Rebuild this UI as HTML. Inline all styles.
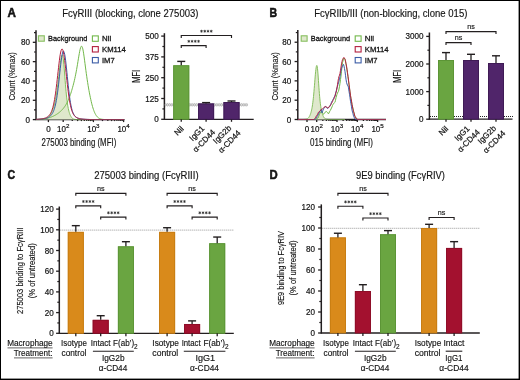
<!DOCTYPE html>
<html><head><meta charset="utf-8"><style>
html,body{margin:0;padding:0;background:#fff;}
svg{display:block;font-family:"Liberation Sans",sans-serif;will-change:transform;}
text{stroke:#141414;stroke-width:0.15px;}
text.t{stroke-width:0.2px;}
</style></head><body>
<svg width="520" height="380" viewBox="0 0 520 380">
<rect width="520" height="380" fill="#fff"/>
<rect x="0" y="0" width="520" height="1" fill="#000" />
<rect x="0" y="0" width="1" height="380" fill="#000" />
<rect x="518.6" y="0" width="1.4" height="380" fill="#000" />
<rect x="0" y="378.6" width="520" height="1.4" fill="#000" />
<text x="7.4" y="16.9" font-size="12.4" font-weight="bold" textLength="8.4" lengthAdjust="spacingAndGlyphs" fill="#141414" style="stroke-width:0.55px">A</text>
<text x="269.6" y="16.9" font-size="12.4" font-weight="bold" textLength="7.6" lengthAdjust="spacingAndGlyphs" fill="#141414" style="stroke-width:0.55px">B</text>
<text x="7.6" y="178.7" font-size="12.4" font-weight="bold" textLength="7.6" lengthAdjust="spacingAndGlyphs" fill="#141414" style="stroke-width:0.55px">C</text>
<text x="269.6" y="178.7" font-size="12.4" font-weight="bold" textLength="8.2" lengthAdjust="spacingAndGlyphs" fill="#141414" style="stroke-width:0.55px">D</text>
<text x="62.2" y="16.8" font-size="10" textLength="136.2" lengthAdjust="spacingAndGlyphs" fill="#141414" >Fc&#947;RIII (blocking, clone 275003)</text>
<text x="314.2" y="17" font-size="10" textLength="153.2" lengthAdjust="spacingAndGlyphs" fill="#141414" >Fc&#947;RIIb/III (non-blocking, clone 015)</text>
<text x="94.2" y="179" font-size="10" textLength="104.4" lengthAdjust="spacingAndGlyphs" fill="#141414" >275003 binding (Fc&#947;RIII)</text>
<text x="356" y="179.2" font-size="10" textLength="88.9" lengthAdjust="spacingAndGlyphs" fill="#141414" >9E9 binding (Fc&#947;RIV)</text>
<line x1="36" y1="30.3" x2="36" y2="120.1" stroke="#231f20" stroke-width="1.5" />
<line x1="32.8" y1="119.6" x2="36" y2="119.6" stroke="#231f20" stroke-width="1.3" />
<text x="30.1" y="122.6" font-size="8.7" text-anchor="end" textLength="4.5" lengthAdjust="spacingAndGlyphs" fill="#141414" class="t">0</text>
<line x1="32.8" y1="100.28" x2="36" y2="100.28" stroke="#231f20" stroke-width="1.3" />
<text x="30.1" y="103.28" font-size="8.7" text-anchor="end" textLength="9" lengthAdjust="spacingAndGlyphs" fill="#141414" class="t">20</text>
<line x1="32.8" y1="80.96" x2="36" y2="80.96" stroke="#231f20" stroke-width="1.3" />
<text x="30.1" y="83.96" font-size="8.7" text-anchor="end" textLength="9" lengthAdjust="spacingAndGlyphs" fill="#141414" class="t">40</text>
<line x1="32.8" y1="61.64" x2="36" y2="61.64" stroke="#231f20" stroke-width="1.3" />
<text x="30.1" y="64.64" font-size="8.7" text-anchor="end" textLength="9" lengthAdjust="spacingAndGlyphs" fill="#141414" class="t">60</text>
<line x1="32.8" y1="42.32" x2="36" y2="42.32" stroke="#231f20" stroke-width="1.3" />
<text x="30.1" y="45.32" font-size="8.7" text-anchor="end" textLength="9" lengthAdjust="spacingAndGlyphs" fill="#141414" class="t">80</text>
<line x1="34" y1="109.94" x2="36" y2="109.94" stroke="#231f20" stroke-width="1.2" />
<line x1="34" y1="90.62" x2="36" y2="90.62" stroke="#231f20" stroke-width="1.2" />
<line x1="34" y1="71.3" x2="36" y2="71.3" stroke="#231f20" stroke-width="1.2" />
<line x1="34" y1="51.98" x2="36" y2="51.98" stroke="#231f20" stroke-width="1.2" />
<line x1="34" y1="32.66" x2="36" y2="32.66" stroke="#231f20" stroke-width="1.2" />
<line x1="35.5" y1="119.6" x2="124.3" y2="119.6" stroke="#231f20" stroke-width="1.3" />
<line x1="48.4" y1="119.6" x2="48.4" y2="122.1" stroke="#231f20" stroke-width="1.3" />
<line x1="63.2" y1="119.6" x2="63.2" y2="122.1" stroke="#231f20" stroke-width="1.3" />
<line x1="93.4" y1="119.6" x2="93.4" y2="122.1" stroke="#231f20" stroke-width="1.3" />
<line x1="123.6" y1="119.6" x2="123.6" y2="122.1" stroke="#231f20" stroke-width="1.3" />
<line x1="72.29" y1="119.6" x2="72.29" y2="121.1" stroke="#231f20" stroke-width="1.3" />
<line x1="77.61" y1="119.6" x2="77.61" y2="121.1" stroke="#231f20" stroke-width="1.3" />
<line x1="81.38" y1="119.6" x2="81.38" y2="121.1" stroke="#231f20" stroke-width="1.3" />
<line x1="84.31" y1="119.6" x2="84.31" y2="121.1" stroke="#231f20" stroke-width="1.3" />
<line x1="86.7" y1="119.6" x2="86.7" y2="121.1" stroke="#231f20" stroke-width="1.3" />
<line x1="88.72" y1="119.6" x2="88.72" y2="121.1" stroke="#231f20" stroke-width="1.3" />
<line x1="90.47" y1="119.6" x2="90.47" y2="121.1" stroke="#231f20" stroke-width="1.3" />
<line x1="92.02" y1="119.6" x2="92.02" y2="121.1" stroke="#231f20" stroke-width="1.3" />
<line x1="102.49" y1="119.6" x2="102.49" y2="121.1" stroke="#231f20" stroke-width="1.3" />
<line x1="107.81" y1="119.6" x2="107.81" y2="121.1" stroke="#231f20" stroke-width="1.3" />
<line x1="111.58" y1="119.6" x2="111.58" y2="121.1" stroke="#231f20" stroke-width="1.3" />
<line x1="114.51" y1="119.6" x2="114.51" y2="121.1" stroke="#231f20" stroke-width="1.3" />
<line x1="116.9" y1="119.6" x2="116.9" y2="121.1" stroke="#231f20" stroke-width="1.3" />
<line x1="118.92" y1="119.6" x2="118.92" y2="121.1" stroke="#231f20" stroke-width="1.3" />
<line x1="120.67" y1="119.6" x2="120.67" y2="121.1" stroke="#231f20" stroke-width="1.3" />
<line x1="122.22" y1="119.6" x2="122.22" y2="121.1" stroke="#231f20" stroke-width="1.3" />
<text x="48.4" y="131.9" font-size="8.7" text-anchor="middle" textLength="4.5" lengthAdjust="spacingAndGlyphs" fill="#141414" class="t">0</text>
<text x="63.2" y="131.9" font-size="8.7" text-anchor="middle" fill="#141414" class="t"><tspan textLength="8.9" lengthAdjust="spacingAndGlyphs">10</tspan><tspan font-size="6.2" dy="-3.6">2</tspan></text>
<text x="93.4" y="131.9" font-size="8.7" text-anchor="middle" fill="#141414" class="t"><tspan textLength="8.9" lengthAdjust="spacingAndGlyphs">10</tspan><tspan font-size="6.2" dy="-3.6">3</tspan></text>
<text x="123.6" y="131.9" font-size="8.7" text-anchor="middle" fill="#141414" class="t"><tspan textLength="8.9" lengthAdjust="spacingAndGlyphs">10</tspan><tspan font-size="6.2" dy="-3.6">4</tspan></text>
<text x="41.5" y="146.1" font-size="10.4" textLength="74.8" lengthAdjust="spacingAndGlyphs" fill="#141414" >275003 binding (MFI)</text>
<text transform="translate(15.2 100.6) rotate(-90)" font-size="9.9" textLength="48.4" lengthAdjust="spacingAndGlyphs" fill="#141414">Count (%max)</text>
<path d="M36,119.6 L36.32,119.6 L36.64,119.59 L36.96,119.59 L37.28,119.59 L37.6,119.59 L37.92,119.59 L38.24,119.58 L38.56,119.58 L38.88,119.57 L39.2,119.57 L39.52,119.56 L39.84,119.55 L40.16,119.55 L40.48,119.53 L40.8,119.52 L41.12,119.51 L41.44,119.49 L41.76,119.47 L42.08,119.44 L42.4,119.42 L42.72,119.38 L43.04,119.34 L43.36,119.3 L43.68,119.25 L44,119.19 L44.32,119.12 L44.64,119.05 L44.96,118.96 L45.28,118.86 L45.6,118.75 L45.92,118.63 L46.24,118.49 L46.56,118.33 L46.88,118.15 L47.2,117.96 L47.52,117.74 L47.84,117.5 L48.16,117.23 L48.48,116.94 L48.8,116.62 L49.12,116.27 L49.44,115.89 L49.76,115.47 L50.08,115.02 L50.4,114.53 L50.72,114.01 L51.04,113.44 L51.36,112.84 L51.68,112.19 L52,111.49 L52.32,110.74 L52.64,109.95 L52.96,109.09 L53.28,108.18 L53.6,107.2 L53.92,106.15 L54.24,105.02 L54.56,103.8 L54.88,102.48 L55.2,101.06 L55.52,99.51 L55.84,97.84 L56.16,96.03 L56.48,94.08 L56.8,91.97 L57.12,89.72 L57.44,87.31 L57.76,84.77 L58.08,82.1 L58.4,79.34 L58.72,76.5 L59.04,73.64 L59.36,70.79 L59.68,68.01 L60,65.36 L60.32,62.89 L60.64,60.66 L60.96,58.73 L61.28,57.15 L61.6,55.96 L61.92,55.2 L62.24,54.89 L62.56,55.17 L62.88,56.33 L63.2,58.31 L63.52,61.01 L63.84,64.29 L64.16,68.01 L64.48,72.02 L64.8,76.16 L65.12,80.29 L65.44,84.31 L65.76,88.14 L66.08,91.7 L66.4,94.96 L66.72,97.92 L67.04,100.58 L67.36,102.95 L67.68,105.05 L68,106.91 L68.32,108.55 L68.64,110.01 L68.96,111.29 L69.28,112.43 L69.6,113.44 L69.92,114.32 L70.24,115.11 L70.56,115.79 L70.88,116.39 L71.2,116.91 L71.52,117.36 L71.84,117.74 L72.16,118.07 L72.48,118.35 L72.8,118.58 L73.12,118.78 L73.44,118.94 L73.76,119.07 L74.08,119.18 L74.4,119.27 L74.72,119.34 L75.04,119.4 L75.36,119.45 L75.68,119.48 L76,119.51 L76.32,119.53 L76.64,119.55 L76.96,119.56 L77.28,119.57 L77.6,119.58 L77.92,119.58 L78.24,119.59 L78.56,119.59 L78.88,119.59 L79.2,119.6 L79.52,119.6 L79.84,119.6 L80.16,119.6 L80.48,119.6 L80.8,119.6 L81.12,119.6 L81.44,119.6 L81.76,119.6 L82.08,119.6 L82.4,119.6 L82.72,119.6 L83.04,119.6 L83.36,119.6 L83.68,119.6 L84,119.6 L84.32,119.6 L84.64,119.6 L84.96,119.6 L85.28,119.6 L85.6,119.6 L85.92,119.6 L86.24,119.6 L86.56,119.6 L86.88,119.6 L87.2,119.6 L87.52,119.6 L87.84,119.6 L88.16,119.6 L88.48,119.6 L88.8,119.6 L89.12,119.6 L89.44,119.6 L89.76,119.6 L90.08,119.6 L90.4,119.6 L90.72,119.6 L91.04,119.6 L91.36,119.6 L91.68,119.6 L92,119.6 L92.32,119.6 L92.64,119.6 L92.96,119.6 L93.28,119.6 L93.6,119.6 L93.92,119.6 L94.24,119.6 L94.56,119.6 L94.88,119.6 L95.2,119.6 L95.52,119.6 L95.84,119.6 L96.16,119.6 L96.48,119.6 L96.8,119.6 L97.12,119.6 L97.44,119.6 L97.76,119.6 L98.08,119.6 L98.4,119.6 L98.72,119.6 L99.04,119.6 L99.36,119.6 L99.68,119.6 L100,119.6 L100,119.6 L36,119.6 Z" stroke="none" fill="#dfe8cc" stroke-width="1" />
<path d="M36,119.6 L36.32,119.6 L36.64,119.59 L36.96,119.59 L37.28,119.59 L37.6,119.59 L37.92,119.59 L38.24,119.58 L38.56,119.58 L38.88,119.57 L39.2,119.57 L39.52,119.56 L39.84,119.55 L40.16,119.55 L40.48,119.53 L40.8,119.52 L41.12,119.51 L41.44,119.49 L41.76,119.47 L42.08,119.44 L42.4,119.42 L42.72,119.38 L43.04,119.34 L43.36,119.3 L43.68,119.25 L44,119.19 L44.32,119.12 L44.64,119.05 L44.96,118.96 L45.28,118.86 L45.6,118.75 L45.92,118.63 L46.24,118.49 L46.56,118.33 L46.88,118.15 L47.2,117.96 L47.52,117.74 L47.84,117.5 L48.16,117.23 L48.48,116.94 L48.8,116.62 L49.12,116.27 L49.44,115.89 L49.76,115.47 L50.08,115.02 L50.4,114.53 L50.72,114.01 L51.04,113.44 L51.36,112.84 L51.68,112.19 L52,111.49 L52.32,110.74 L52.64,109.95 L52.96,109.09 L53.28,108.18 L53.6,107.2 L53.92,106.15 L54.24,105.02 L54.56,103.8 L54.88,102.48 L55.2,101.06 L55.52,99.51 L55.84,97.84 L56.16,96.03 L56.48,94.08 L56.8,91.97 L57.12,89.72 L57.44,87.31 L57.76,84.77 L58.08,82.1 L58.4,79.34 L58.72,76.5 L59.04,73.64 L59.36,70.79 L59.68,68.01 L60,65.36 L60.32,62.89 L60.64,60.66 L60.96,58.73 L61.28,57.15 L61.6,55.96 L61.92,55.2 L62.24,54.89 L62.56,55.17 L62.88,56.33 L63.2,58.31 L63.52,61.01 L63.84,64.29 L64.16,68.01 L64.48,72.02 L64.8,76.16 L65.12,80.29 L65.44,84.31 L65.76,88.14 L66.08,91.7 L66.4,94.96 L66.72,97.92 L67.04,100.58 L67.36,102.95 L67.68,105.05 L68,106.91 L68.32,108.55 L68.64,110.01 L68.96,111.29 L69.28,112.43 L69.6,113.44 L69.92,114.32 L70.24,115.11 L70.56,115.79 L70.88,116.39 L71.2,116.91 L71.52,117.36 L71.84,117.74 L72.16,118.07 L72.48,118.35 L72.8,118.58 L73.12,118.78 L73.44,118.94 L73.76,119.07 L74.08,119.18 L74.4,119.27 L74.72,119.34 L75.04,119.4 L75.36,119.45 L75.68,119.48 L76,119.51 L76.32,119.53 L76.64,119.55 L76.96,119.56 L77.28,119.57 L77.6,119.58 L77.92,119.58 L78.24,119.59 L78.56,119.59 L78.88,119.59 L79.2,119.6 L79.52,119.6 L79.84,119.6 L80.16,119.6 L80.48,119.6 L80.8,119.6 L81.12,119.6 L81.44,119.6 L81.76,119.6 L82.08,119.6 L82.4,119.6 L82.72,119.6 L83.04,119.6 L83.36,119.6 L83.68,119.6 L84,119.6 L84.32,119.6 L84.64,119.6 L84.96,119.6 L85.28,119.6 L85.6,119.6 L85.92,119.6 L86.24,119.6 L86.56,119.6 L86.88,119.6 L87.2,119.6 L87.52,119.6 L87.84,119.6 L88.16,119.6 L88.48,119.6 L88.8,119.6 L89.12,119.6 L89.44,119.6 L89.76,119.6 L90.08,119.6 L90.4,119.6 L90.72,119.6 L91.04,119.6 L91.36,119.6 L91.68,119.6 L92,119.6 L92.32,119.6 L92.64,119.6 L92.96,119.6 L93.28,119.6 L93.6,119.6 L93.92,119.6 L94.24,119.6 L94.56,119.6 L94.88,119.6 L95.2,119.6 L95.52,119.6 L95.84,119.6 L96.16,119.6 L96.48,119.6 L96.8,119.6 L97.12,119.6 L97.44,119.6 L97.76,119.6 L98.08,119.6 L98.4,119.6 L98.72,119.6 L99.04,119.6 L99.36,119.6 L99.68,119.6 L100,119.6" stroke="#86bf5f" fill="none" stroke-width="1.0" />
<path d="M36,119.43 L36.44,119.42 L36.88,119.4 L37.32,119.38 L37.77,119.36 L38.21,119.34 L38.65,119.31 L39.09,119.28 L39.53,119.26 L39.97,119.22 L40.41,119.19 L40.86,119.15 L41.3,119.11 L41.74,119.07 L42.18,119.02 L42.62,118.97 L43.06,118.92 L43.51,118.86 L43.95,118.8 L44.39,118.74 L44.83,118.67 L45.27,118.6 L45.71,118.52 L46.15,118.43 L46.6,118.34 L47.04,118.25 L47.48,118.15 L47.92,118.04 L48.36,117.92 L48.8,117.8 L49.24,117.68 L49.69,117.54 L50.13,117.4 L50.57,117.25 L51.01,117.09 L51.45,116.93 L51.89,116.76 L52.34,116.57 L52.78,116.38 L53.22,116.18 L53.66,115.97 L54.1,115.76 L54.54,115.53 L54.98,115.29 L55.43,115.04 L55.87,114.78 L56.31,114.51 L56.75,114.23 L57.19,113.94 L57.63,113.64 L58.08,113.33 L58.52,113 L58.96,112.66 L59.4,112.3 L59.84,111.94 L60.28,111.55 L60.72,111.16 L61.17,110.74 L61.61,110.3 L62.05,109.85 L62.49,109.38 L62.93,108.88 L63.37,108.35 L63.81,107.8 L64.26,107.22 L64.7,106.61 L65.14,105.96 L65.58,105.28 L66.02,104.56 L66.46,103.79 L66.91,102.97 L67.35,102.11 L67.79,101.19 L68.23,100.23 L68.67,99.2 L69.11,98.11 L69.55,96.97 L70,95.77 L70.44,94.5 L70.88,93.17 L71.32,91.78 L71.76,90.33 L72.2,88.83 L72.64,87.26 L73.09,85.62 L73.53,83.93 L73.97,82.16 L74.41,80.31 L74.85,78.37 L75.29,76.33 L75.73,74.17 L76.18,71.89 L76.62,69.47 L77.06,66.93 L77.5,64.29 L77.94,61.56 L78.38,58.82 L78.83,56.13 L79.27,53.57 L79.71,51.25 L80.15,49.26 L80.59,47.71 L81.03,46.68 L81.47,46.21 L81.92,46.38 L82.36,47.3 L82.8,48.91 L83.24,51.13 L83.68,53.84 L84.12,56.91 L84.56,60.2 L85.01,63.6 L85.45,67.02 L85.89,70.38 L86.33,73.65 L86.77,76.78 L87.21,79.78 L87.66,82.64 L88.1,85.37 L88.54,87.98 L88.98,90.47 L89.42,92.86 L89.86,95.14 L90.3,97.32 L90.75,99.38 L91.19,101.34 L91.63,103.18 L92.07,104.9 L92.51,106.5 L92.95,107.98 L93.4,109.35 L93.84,110.59 L94.28,111.72 L94.72,112.75 L95.16,113.66 L95.6,114.48 L96.04,115.21 L96.49,115.85 L96.93,116.42 L97.37,116.91 L97.81,117.33 L98.25,117.7 L98.69,118.02 L99.13,118.29 L99.58,118.52 L100.02,118.71 L100.46,118.87 L100.9,119.01 L101.34,119.12 L101.78,119.21 L102.22,119.29 L102.67,119.35 L103.11,119.4 L103.55,119.44 L103.99,119.48 L104.43,119.5 L104.87,119.52 L105.32,119.54 L105.76,119.55 L106.2,119.57 L106.64,119.57 L107.08,119.58 L107.52,119.58 L107.96,119.59 L108.41,119.59 L108.85,119.59 L109.29,119.6 L109.73,119.6 L110.17,119.6 L110.61,119.6 L111.06,119.6 L111.5,119.6 L111.94,119.6 L112.38,119.6 L112.82,119.6 L113.26,119.6 L113.7,119.6 L114.15,119.6 L114.59,119.6 L115.03,119.6 L115.47,119.6 L115.91,119.6 L116.35,119.6 L116.79,119.6 L117.24,119.6 L117.68,119.6 L118.12,119.6 L118.56,119.6 L119,119.6 L119.44,119.6 L119.89,119.6 L120.33,119.6 L120.77,119.6 L121.21,119.6 L121.65,119.6 L122.09,119.6 L122.53,119.6 L122.98,119.6 L123.42,119.6 L123.86,119.6 L124.3,119.6" stroke="#72b84a" fill="none" stroke-width="1.0" />
<path d="M36,119.42 L36.44,119.4 L36.88,119.39 L37.32,119.36 L37.77,119.34 L38.21,119.32 L38.65,119.29 L39.09,119.26 L39.53,119.23 L39.97,119.2 L40.41,119.17 L40.86,119.13 L41.3,119.09 L41.74,119.05 L42.18,119 L42.62,118.95 L43.06,118.89 L43.51,118.83 L43.95,118.76 L44.39,118.68 L44.83,118.6 L45.27,118.5 L45.71,118.4 L46.15,118.28 L46.6,118.15 L47.04,118 L47.48,117.82 L47.92,117.63 L48.36,117.41 L48.8,117.16 L49.24,116.88 L49.69,116.56 L50.13,116.19 L50.57,115.78 L51.01,115.31 L51.45,114.78 L51.89,114.17 L52.34,113.48 L52.78,112.7 L53.22,111.81 L53.66,110.78 L54.1,109.61 L54.54,108.27 L54.98,106.74 L55.43,104.98 L55.87,102.98 L56.31,100.7 L56.75,98.14 L57.19,95.27 L57.63,92.1 L58.08,88.64 L58.52,84.92 L58.96,80.98 L59.4,76.89 L59.84,72.74 L60.28,68.63 L60.72,64.68 L61.17,61.02 L61.61,57.77 L62.05,55.05 L62.49,52.98 L62.93,51.63 L63.37,51.07 L63.81,51.34 L64.26,52.44 L64.7,54.34 L65.14,56.95 L65.58,60.17 L66.02,63.89 L66.46,67.96 L66.91,72.27 L67.35,76.66 L67.79,81.03 L68.23,85.28 L68.67,89.32 L69.11,93.09 L69.55,96.54 L70,99.66 L70.44,102.44 L70.88,104.89 L71.32,107.02 L71.76,108.85 L72.2,110.43 L72.64,111.77 L73.09,112.91 L73.53,113.87 L73.97,114.69 L74.41,115.37 L74.85,115.95 L75.29,116.44 L75.73,116.85 L76.18,117.2 L76.62,117.49 L77.06,117.74 L77.5,117.96 L77.94,118.14 L78.38,118.29 L78.83,118.43 L79.27,118.55 L79.71,118.65 L80.15,118.73 L80.59,118.81 L81.03,118.88 L81.47,118.94 L81.92,119 L82.36,119.05 L82.8,119.09 L83.24,119.14 L83.68,119.17 L84.12,119.21 L84.56,119.24 L85.01,119.27 L85.45,119.3 L85.89,119.32 L86.33,119.35 L86.77,119.37 L87.21,119.39 L87.66,119.41 L88.1,119.43 L88.54,119.44 L88.98,119.46 L89.42,119.47 L89.86,119.48 L90.3,119.49 L90.75,119.5 L91.19,119.51 L91.63,119.52 L92.07,119.53 L92.51,119.54 L92.95,119.54 L93.4,119.55 L93.84,119.56 L94.28,119.56 L94.72,119.57 L95.16,119.57 L95.6,119.57 L96.04,119.58 L96.49,119.58 L96.93,119.58 L97.37,119.58 L97.81,119.59 L98.25,119.59 L98.69,119.59 L99.13,119.59 L99.58,119.59 L100.02,119.59 L100.46,119.59 L100.9,119.59 L101.34,119.6 L101.78,119.6 L102.22,119.6 L102.67,119.6 L103.11,119.6 L103.55,119.6 L103.99,119.6 L104.43,119.6 L104.87,119.6 L105.32,119.6 L105.76,119.6 L106.2,119.6 L106.64,119.6 L107.08,119.6 L107.52,119.6 L107.96,119.6 L108.41,119.6 L108.85,119.6 L109.29,119.6 L109.73,119.6 L110.17,119.6 L110.61,119.6 L111.06,119.6 L111.5,119.6 L111.94,119.6 L112.38,119.6 L112.82,119.6 L113.26,119.6 L113.7,119.6 L114.15,119.6 L114.59,119.6 L115.03,119.6 L115.47,119.6 L115.91,119.6 L116.35,119.6 L116.79,119.6 L117.24,119.6 L117.68,119.6 L118.12,119.6 L118.56,119.6 L119,119.6 L119.44,119.6 L119.89,119.6 L120.33,119.6 L120.77,119.6 L121.21,119.6 L121.65,119.6 L122.09,119.6 L122.53,119.6 L122.98,119.6 L123.42,119.6 L123.86,119.6 L124.3,119.6" stroke="#3b5ca6" fill="none" stroke-width="1.0" />
<path d="M36,119.36 L36.44,119.34 L36.88,119.32 L37.32,119.29 L37.77,119.26 L38.21,119.23 L38.65,119.19 L39.09,119.15 L39.53,119.11 L39.97,119.07 L40.41,119.02 L40.86,118.97 L41.3,118.91 L41.74,118.84 L42.18,118.77 L42.62,118.69 L43.06,118.6 L43.51,118.5 L43.95,118.39 L44.39,118.27 L44.83,118.13 L45.27,117.97 L45.71,117.8 L46.15,117.6 L46.6,117.37 L47.04,117.12 L47.48,116.83 L47.92,116.5 L48.36,116.13 L48.8,115.7 L49.24,115.22 L49.69,114.66 L50.13,114.03 L50.57,113.3 L51.01,112.46 L51.45,111.5 L51.89,110.39 L52.34,109.12 L52.78,107.66 L53.22,105.99 L53.66,104.1 L54.1,101.95 L54.54,99.54 L54.98,96.86 L55.43,93.9 L55.87,90.67 L56.31,87.19 L56.75,83.5 L57.19,79.63 L57.63,75.65 L58.08,71.64 L58.52,67.68 L58.96,63.85 L59.4,60.27 L59.84,57.04 L60.28,54.24 L60.72,51.96 L61.17,50.29 L61.61,49.26 L62.05,48.92 L62.49,49.29 L62.93,50.35 L63.37,52.09 L63.81,54.44 L64.26,57.33 L64.7,60.66 L65.14,64.34 L65.58,68.26 L66.02,72.32 L66.46,76.43 L66.91,80.49 L67.35,84.44 L67.79,88.21 L68.23,91.75 L68.67,95.03 L69.11,98.04 L69.55,100.76 L70,103.19 L70.44,105.36 L70.88,107.26 L71.32,108.93 L71.76,110.37 L72.2,111.63 L72.64,112.71 L73.09,113.63 L73.53,114.43 L73.97,115.11 L74.41,115.7 L74.85,116.2 L75.29,116.63 L75.73,117 L76.18,117.31 L76.62,117.59 L77.06,117.82 L77.5,118.02 L77.94,118.2 L78.38,118.35 L78.83,118.48 L79.27,118.59 L79.71,118.69 L80.15,118.78 L80.59,118.86 L81.03,118.93 L81.47,118.99 L81.92,119.04 L82.36,119.09 L82.8,119.14 L83.24,119.18 L83.68,119.22 L84.12,119.25 L84.56,119.28 L85.01,119.31 L85.45,119.33 L85.89,119.36 L86.33,119.38 L86.77,119.4 L87.21,119.42 L87.66,119.44 L88.1,119.45 L88.54,119.46 L88.98,119.48 L89.42,119.49 L89.86,119.5 L90.3,119.51 L90.75,119.52 L91.19,119.53 L91.63,119.54 L92.07,119.54 L92.51,119.55 L92.95,119.55 L93.4,119.56 L93.84,119.56 L94.28,119.57 L94.72,119.57 L95.16,119.58 L95.6,119.58 L96.04,119.58 L96.49,119.58 L96.93,119.59 L97.37,119.59 L97.81,119.59 L98.25,119.59 L98.69,119.59 L99.13,119.59 L99.58,119.59 L100.02,119.59 L100.46,119.6 L100.9,119.6 L101.34,119.6 L101.78,119.6 L102.22,119.6 L102.67,119.6 L103.11,119.6 L103.55,119.6 L103.99,119.6 L104.43,119.6 L104.87,119.6 L105.32,119.6 L105.76,119.6 L106.2,119.6 L106.64,119.6 L107.08,119.6 L107.52,119.6 L107.96,119.6 L108.41,119.6 L108.85,119.6 L109.29,119.6 L109.73,119.6 L110.17,119.6 L110.61,119.6 L111.06,119.6 L111.5,119.6 L111.94,119.6 L112.38,119.6 L112.82,119.6 L113.26,119.6 L113.7,119.6 L114.15,119.6 L114.59,119.6 L115.03,119.6 L115.47,119.6 L115.91,119.6 L116.35,119.6 L116.79,119.6 L117.24,119.6 L117.68,119.6 L118.12,119.6 L118.56,119.6 L119,119.6 L119.44,119.6 L119.89,119.6 L120.33,119.6 L120.77,119.6 L121.21,119.6 L121.65,119.6 L122.09,119.6 L122.53,119.6 L122.98,119.6 L123.42,119.6 L123.86,119.6 L124.3,119.6" stroke="#b3203f" fill="none" stroke-width="1.0" />
<rect x="38.4" y="35.8" width="5.9" height="5.4" fill="#dfe8cc" stroke="#86bf5f" stroke-width="1.1"/>
<text x="48" y="41.2" font-size="8" textLength="39.4" lengthAdjust="spacingAndGlyphs" fill="#141414" style="stroke-width:0.3px">Background</text>
<rect x="92.4" y="35.9" width="5.9" height="5.4" fill="#fff" stroke="#72b84a" stroke-width="1.1"/>
<text x="102" y="41.3" font-size="8" textLength="9.2" lengthAdjust="spacingAndGlyphs" fill="#141414" style="stroke-width:0.3px">Nil</text>
<rect x="92.4" y="46.6" width="5.9" height="5.4" fill="#fff" stroke="#b3203f" stroke-width="1.1"/>
<text x="102" y="52" font-size="8" textLength="23.8" lengthAdjust="spacingAndGlyphs" fill="#141414" style="stroke-width:0.3px">KM114</text>
<rect x="92.4" y="57.5" width="5.9" height="5.4" fill="#fff" stroke="#3b5ca6" stroke-width="1.1"/>
<text x="102" y="62.9" font-size="8" textLength="12.6" lengthAdjust="spacingAndGlyphs" fill="#141414" style="stroke-width:0.3px">IM7</text>
<line x1="164.4" y1="33.2" x2="164.4" y2="119.8" stroke="#231f20" stroke-width="1.5" />
<line x1="161.2" y1="119.3" x2="164.4" y2="119.3" stroke="#231f20" stroke-width="1.3" />
<text x="158.8" y="122.3" font-size="8.7" text-anchor="end" textLength="4.5" lengthAdjust="spacingAndGlyphs" fill="#141414" class="t">0</text>
<line x1="161.2" y1="98.5" x2="164.4" y2="98.5" stroke="#231f20" stroke-width="1.3" />
<text x="158.8" y="101.5" font-size="8.7" text-anchor="end" textLength="13.5" lengthAdjust="spacingAndGlyphs" fill="#141414" class="t">125</text>
<line x1="161.2" y1="77.7" x2="164.4" y2="77.7" stroke="#231f20" stroke-width="1.3" />
<text x="158.8" y="80.7" font-size="8.7" text-anchor="end" textLength="13.5" lengthAdjust="spacingAndGlyphs" fill="#141414" class="t">250</text>
<line x1="161.2" y1="56.9" x2="164.4" y2="56.9" stroke="#231f20" stroke-width="1.3" />
<text x="158.8" y="59.9" font-size="8.7" text-anchor="end" textLength="13.5" lengthAdjust="spacingAndGlyphs" fill="#141414" class="t">375</text>
<line x1="161.2" y1="36.1" x2="164.4" y2="36.1" stroke="#231f20" stroke-width="1.3" />
<text x="158.8" y="39.1" font-size="8.7" text-anchor="end" textLength="13.5" lengthAdjust="spacingAndGlyphs" fill="#141414" class="t">500</text>
<line x1="162.4" y1="108.9" x2="164.4" y2="108.9" stroke="#231f20" stroke-width="1.2" />
<line x1="162.4" y1="88.1" x2="164.4" y2="88.1" stroke="#231f20" stroke-width="1.2" />
<line x1="162.4" y1="67.3" x2="164.4" y2="67.3" stroke="#231f20" stroke-width="1.2" />
<line x1="162.4" y1="46.5" x2="164.4" y2="46.5" stroke="#231f20" stroke-width="1.2" />
<line x1="163.9" y1="119.3" x2="253.7" y2="119.3" stroke="#231f20" stroke-width="1.3" />
<text transform="translate(139.8 82.8) rotate(-90)" font-size="10.2" textLength="12.9" lengthAdjust="spacingAndGlyphs" fill="#141414">MFI</text>
<ellipse cx="165.8" cy="104.8" rx="0.75" ry="1.3" fill="none" stroke="#a4a4a4" stroke-width="0.7"/>
<ellipse cx="167.6" cy="104.8" rx="0.75" ry="1.3" fill="none" stroke="#a4a4a4" stroke-width="0.7"/>
<ellipse cx="169.4" cy="104.8" rx="0.75" ry="1.3" fill="none" stroke="#a4a4a4" stroke-width="0.7"/>
<ellipse cx="171.2" cy="104.8" rx="0.75" ry="1.3" fill="none" stroke="#a4a4a4" stroke-width="0.7"/>
<ellipse cx="173" cy="104.8" rx="0.75" ry="1.3" fill="none" stroke="#a4a4a4" stroke-width="0.7"/>
<ellipse cx="174.8" cy="104.8" rx="0.75" ry="1.3" fill="none" stroke="#a4a4a4" stroke-width="0.7"/>
<ellipse cx="176.6" cy="104.8" rx="0.75" ry="1.3" fill="none" stroke="#a4a4a4" stroke-width="0.7"/>
<ellipse cx="178.4" cy="104.8" rx="0.75" ry="1.3" fill="none" stroke="#a4a4a4" stroke-width="0.7"/>
<ellipse cx="180.2" cy="104.8" rx="0.75" ry="1.3" fill="none" stroke="#a4a4a4" stroke-width="0.7"/>
<ellipse cx="182" cy="104.8" rx="0.75" ry="1.3" fill="none" stroke="#a4a4a4" stroke-width="0.7"/>
<ellipse cx="183.8" cy="104.8" rx="0.75" ry="1.3" fill="none" stroke="#a4a4a4" stroke-width="0.7"/>
<ellipse cx="185.6" cy="104.8" rx="0.75" ry="1.3" fill="none" stroke="#a4a4a4" stroke-width="0.7"/>
<ellipse cx="187.4" cy="104.8" rx="0.75" ry="1.3" fill="none" stroke="#a4a4a4" stroke-width="0.7"/>
<ellipse cx="189.2" cy="104.8" rx="0.75" ry="1.3" fill="none" stroke="#a4a4a4" stroke-width="0.7"/>
<ellipse cx="191" cy="104.8" rx="0.75" ry="1.3" fill="none" stroke="#a4a4a4" stroke-width="0.7"/>
<ellipse cx="192.8" cy="104.8" rx="0.75" ry="1.3" fill="none" stroke="#a4a4a4" stroke-width="0.7"/>
<ellipse cx="194.6" cy="104.8" rx="0.75" ry="1.3" fill="none" stroke="#a4a4a4" stroke-width="0.7"/>
<ellipse cx="196.4" cy="104.8" rx="0.75" ry="1.3" fill="none" stroke="#a4a4a4" stroke-width="0.7"/>
<ellipse cx="198.2" cy="104.8" rx="0.75" ry="1.3" fill="none" stroke="#a4a4a4" stroke-width="0.7"/>
<ellipse cx="200" cy="104.8" rx="0.75" ry="1.3" fill="none" stroke="#a4a4a4" stroke-width="0.7"/>
<ellipse cx="201.8" cy="104.8" rx="0.75" ry="1.3" fill="none" stroke="#a4a4a4" stroke-width="0.7"/>
<ellipse cx="203.6" cy="104.8" rx="0.75" ry="1.3" fill="none" stroke="#a4a4a4" stroke-width="0.7"/>
<ellipse cx="205.4" cy="104.8" rx="0.75" ry="1.3" fill="none" stroke="#a4a4a4" stroke-width="0.7"/>
<ellipse cx="207.2" cy="104.8" rx="0.75" ry="1.3" fill="none" stroke="#a4a4a4" stroke-width="0.7"/>
<ellipse cx="209" cy="104.8" rx="0.75" ry="1.3" fill="none" stroke="#a4a4a4" stroke-width="0.7"/>
<ellipse cx="210.8" cy="104.8" rx="0.75" ry="1.3" fill="none" stroke="#a4a4a4" stroke-width="0.7"/>
<ellipse cx="212.6" cy="104.8" rx="0.75" ry="1.3" fill="none" stroke="#a4a4a4" stroke-width="0.7"/>
<ellipse cx="214.4" cy="104.8" rx="0.75" ry="1.3" fill="none" stroke="#a4a4a4" stroke-width="0.7"/>
<ellipse cx="216.2" cy="104.8" rx="0.75" ry="1.3" fill="none" stroke="#a4a4a4" stroke-width="0.7"/>
<ellipse cx="218" cy="104.8" rx="0.75" ry="1.3" fill="none" stroke="#a4a4a4" stroke-width="0.7"/>
<ellipse cx="219.8" cy="104.8" rx="0.75" ry="1.3" fill="none" stroke="#a4a4a4" stroke-width="0.7"/>
<ellipse cx="221.6" cy="104.8" rx="0.75" ry="1.3" fill="none" stroke="#a4a4a4" stroke-width="0.7"/>
<ellipse cx="223.4" cy="104.8" rx="0.75" ry="1.3" fill="none" stroke="#a4a4a4" stroke-width="0.7"/>
<ellipse cx="225.2" cy="104.8" rx="0.75" ry="1.3" fill="none" stroke="#a4a4a4" stroke-width="0.7"/>
<ellipse cx="227" cy="104.8" rx="0.75" ry="1.3" fill="none" stroke="#a4a4a4" stroke-width="0.7"/>
<ellipse cx="228.8" cy="104.8" rx="0.75" ry="1.3" fill="none" stroke="#a4a4a4" stroke-width="0.7"/>
<ellipse cx="230.6" cy="104.8" rx="0.75" ry="1.3" fill="none" stroke="#a4a4a4" stroke-width="0.7"/>
<ellipse cx="232.4" cy="104.8" rx="0.75" ry="1.3" fill="none" stroke="#a4a4a4" stroke-width="0.7"/>
<ellipse cx="234.2" cy="104.8" rx="0.75" ry="1.3" fill="none" stroke="#a4a4a4" stroke-width="0.7"/>
<ellipse cx="236" cy="104.8" rx="0.75" ry="1.3" fill="none" stroke="#a4a4a4" stroke-width="0.7"/>
<ellipse cx="237.8" cy="104.8" rx="0.75" ry="1.3" fill="none" stroke="#a4a4a4" stroke-width="0.7"/>
<ellipse cx="239.6" cy="104.8" rx="0.75" ry="1.3" fill="none" stroke="#a4a4a4" stroke-width="0.7"/>
<ellipse cx="241.4" cy="104.8" rx="0.75" ry="1.3" fill="none" stroke="#a4a4a4" stroke-width="0.7"/>
<ellipse cx="243.2" cy="104.8" rx="0.75" ry="1.3" fill="none" stroke="#a4a4a4" stroke-width="0.7"/>
<ellipse cx="245" cy="104.8" rx="0.75" ry="1.3" fill="none" stroke="#a4a4a4" stroke-width="0.7"/>
<ellipse cx="246.8" cy="104.8" rx="0.75" ry="1.3" fill="none" stroke="#a4a4a4" stroke-width="0.7"/>
<rect x="173.25" y="65.3" width="16" height="54" fill="#6aa541" />
<rect x="173.7" y="65.75" width="15.1" height="53.55" fill="none" stroke="#5b9436" stroke-width="0.9"/>
<line x1="181.25" y1="61.4" x2="181.25" y2="65.3" stroke="#231f20" stroke-width="1.3" />
<line x1="177.25" y1="61.4" x2="185.25" y2="61.4" stroke="#231f20" stroke-width="1.4" />
<rect x="198.1" y="103.5" width="16" height="15.8" fill="#50256a" />
<rect x="198.55" y="103.95" width="15.1" height="15.35" fill="none" stroke="#3e1b54" stroke-width="0.9"/>
<line x1="206.1" y1="102.6" x2="206.1" y2="103.5" stroke="#231f20" stroke-width="1.3" />
<line x1="202.1" y1="102.6" x2="210.1" y2="102.6" stroke="#231f20" stroke-width="1.4" />
<rect x="223.5" y="102" width="16" height="17.3" fill="#50256a" />
<rect x="223.95" y="102.45" width="15.1" height="16.85" fill="none" stroke="#3e1b54" stroke-width="0.9"/>
<line x1="231.5" y1="101" x2="231.5" y2="102" stroke="#231f20" stroke-width="1.3" />
<line x1="227.5" y1="101" x2="235.5" y2="101" stroke="#231f20" stroke-width="1.4" />
<line x1="181.25" y1="119.3" x2="181.25" y2="121.8" stroke="#231f20" stroke-width="1.3" />
<line x1="206.1" y1="119.3" x2="206.1" y2="121.8" stroke="#231f20" stroke-width="1.3" />
<line x1="231.5" y1="119.3" x2="231.5" y2="121.8" stroke="#231f20" stroke-width="1.3" />
<path d="M181.25,38 L181.25,35.5 L231.5,35.5 L231.5,38" stroke="#231f20" fill="none" stroke-width="1.15" />
<path d="M201.5,29.8 L201.5,32.6 M200.29,30.5 L202.71,31.9 M202.71,30.5 L200.29,31.9 " stroke="#2a2a2a" fill="none" stroke-width="0.75" />
<path d="M204.75,29.8 L204.75,32.6 M203.54,30.5 L205.96,31.9 M205.96,30.5 L203.54,31.9 " stroke="#2a2a2a" fill="none" stroke-width="0.75" />
<path d="M208,29.8 L208,32.6 M206.79,30.5 L209.21,31.9 M209.21,30.5 L206.79,31.9 " stroke="#2a2a2a" fill="none" stroke-width="0.75" />
<path d="M211.25,29.8 L211.25,32.6 M210.04,30.5 L212.46,31.9 M212.46,30.5 L210.04,31.9 " stroke="#2a2a2a" fill="none" stroke-width="0.75" />
<path d="M181.25,48.1 L181.25,45.6 L206.1,45.6 L206.1,48.1" stroke="#231f20" fill="none" stroke-width="1.15" />
<path d="M188.8,39.9 L188.8,42.7 M187.59,40.6 L190.01,42 M190.01,40.6 L187.59,42 " stroke="#2a2a2a" fill="none" stroke-width="0.75" />
<path d="M192.05,39.9 L192.05,42.7 M190.84,40.6 L193.26,42 M193.26,40.6 L190.84,42 " stroke="#2a2a2a" fill="none" stroke-width="0.75" />
<path d="M195.3,39.9 L195.3,42.7 M194.09,40.6 L196.51,42 M196.51,40.6 L194.09,42 " stroke="#2a2a2a" fill="none" stroke-width="0.75" />
<path d="M198.55,39.9 L198.55,42.7 M197.34,40.6 L199.76,42 M199.76,40.6 L197.34,42 " stroke="#2a2a2a" fill="none" stroke-width="0.75" />
<text transform="translate(184.2 129.4) rotate(-45)" font-size="8.1" text-anchor="end" fill="#141414" style="stroke-width:0.22px">Nil</text>
<text transform="translate(205 129) rotate(-45)" font-size="8.1" text-anchor="end" fill="#141414" style="stroke-width:0.22px">IgG1</text>
<text transform="translate(215.8 132.8) rotate(-45)" font-size="8.1" text-anchor="end" fill="#141414" style="stroke-width:0.22px">&#945;-CD44</text>
<text transform="translate(231.9 128.6) rotate(-45)" font-size="8.1" text-anchor="end" fill="#141414" style="stroke-width:0.22px">IgG2b</text>
<text transform="translate(241.3 133.6) rotate(-45)" font-size="8.1" text-anchor="end" fill="#141414" style="stroke-width:0.22px">&#945;-CD44</text>
<line x1="297.8" y1="30" x2="297.8" y2="120" stroke="#231f20" stroke-width="1.5" />
<line x1="294.6" y1="119.5" x2="297.8" y2="119.5" stroke="#231f20" stroke-width="1.3" />
<text x="291.2" y="122.5" font-size="8.7" text-anchor="end" textLength="4.5" lengthAdjust="spacingAndGlyphs" fill="#141414" class="t">0</text>
<line x1="294.6" y1="100.18" x2="297.8" y2="100.18" stroke="#231f20" stroke-width="1.3" />
<text x="291.2" y="103.18" font-size="8.7" text-anchor="end" textLength="9" lengthAdjust="spacingAndGlyphs" fill="#141414" class="t">20</text>
<line x1="294.6" y1="80.86" x2="297.8" y2="80.86" stroke="#231f20" stroke-width="1.3" />
<text x="291.2" y="83.86" font-size="8.7" text-anchor="end" textLength="9" lengthAdjust="spacingAndGlyphs" fill="#141414" class="t">40</text>
<line x1="294.6" y1="61.54" x2="297.8" y2="61.54" stroke="#231f20" stroke-width="1.3" />
<text x="291.2" y="64.54" font-size="8.7" text-anchor="end" textLength="9" lengthAdjust="spacingAndGlyphs" fill="#141414" class="t">60</text>
<line x1="294.6" y1="42.22" x2="297.8" y2="42.22" stroke="#231f20" stroke-width="1.3" />
<text x="291.2" y="45.22" font-size="8.7" text-anchor="end" textLength="9" lengthAdjust="spacingAndGlyphs" fill="#141414" class="t">80</text>
<line x1="295.8" y1="109.84" x2="297.8" y2="109.84" stroke="#231f20" stroke-width="1.2" />
<line x1="295.8" y1="90.52" x2="297.8" y2="90.52" stroke="#231f20" stroke-width="1.2" />
<line x1="295.8" y1="71.2" x2="297.8" y2="71.2" stroke="#231f20" stroke-width="1.2" />
<line x1="295.8" y1="51.88" x2="297.8" y2="51.88" stroke="#231f20" stroke-width="1.2" />
<line x1="295.8" y1="32.56" x2="297.8" y2="32.56" stroke="#231f20" stroke-width="1.2" />
<line x1="297.3" y1="119.5" x2="386" y2="119.5" stroke="#231f20" stroke-width="1.3" />
<line x1="307" y1="119.5" x2="307" y2="122" stroke="#231f20" stroke-width="1.3" />
<line x1="316.7" y1="119.5" x2="316.7" y2="122" stroke="#231f20" stroke-width="1.3" />
<line x1="337" y1="119.5" x2="337" y2="122" stroke="#231f20" stroke-width="1.3" />
<line x1="357.3" y1="119.5" x2="357.3" y2="122" stroke="#231f20" stroke-width="1.3" />
<line x1="377.6" y1="119.5" x2="377.6" y2="122" stroke="#231f20" stroke-width="1.3" />
<line x1="322.81" y1="119.5" x2="322.81" y2="121" stroke="#231f20" stroke-width="1.3" />
<line x1="326.39" y1="119.5" x2="326.39" y2="121" stroke="#231f20" stroke-width="1.3" />
<line x1="328.92" y1="119.5" x2="328.92" y2="121" stroke="#231f20" stroke-width="1.3" />
<line x1="330.89" y1="119.5" x2="330.89" y2="121" stroke="#231f20" stroke-width="1.3" />
<line x1="332.5" y1="119.5" x2="332.5" y2="121" stroke="#231f20" stroke-width="1.3" />
<line x1="333.86" y1="119.5" x2="333.86" y2="121" stroke="#231f20" stroke-width="1.3" />
<line x1="335.03" y1="119.5" x2="335.03" y2="121" stroke="#231f20" stroke-width="1.3" />
<line x1="336.07" y1="119.5" x2="336.07" y2="121" stroke="#231f20" stroke-width="1.3" />
<line x1="343.11" y1="119.5" x2="343.11" y2="121" stroke="#231f20" stroke-width="1.3" />
<line x1="346.69" y1="119.5" x2="346.69" y2="121" stroke="#231f20" stroke-width="1.3" />
<line x1="349.22" y1="119.5" x2="349.22" y2="121" stroke="#231f20" stroke-width="1.3" />
<line x1="351.19" y1="119.5" x2="351.19" y2="121" stroke="#231f20" stroke-width="1.3" />
<line x1="352.8" y1="119.5" x2="352.8" y2="121" stroke="#231f20" stroke-width="1.3" />
<line x1="354.16" y1="119.5" x2="354.16" y2="121" stroke="#231f20" stroke-width="1.3" />
<line x1="355.33" y1="119.5" x2="355.33" y2="121" stroke="#231f20" stroke-width="1.3" />
<line x1="356.37" y1="119.5" x2="356.37" y2="121" stroke="#231f20" stroke-width="1.3" />
<line x1="363.41" y1="119.5" x2="363.41" y2="121" stroke="#231f20" stroke-width="1.3" />
<line x1="366.99" y1="119.5" x2="366.99" y2="121" stroke="#231f20" stroke-width="1.3" />
<line x1="369.52" y1="119.5" x2="369.52" y2="121" stroke="#231f20" stroke-width="1.3" />
<line x1="371.49" y1="119.5" x2="371.49" y2="121" stroke="#231f20" stroke-width="1.3" />
<line x1="373.1" y1="119.5" x2="373.1" y2="121" stroke="#231f20" stroke-width="1.3" />
<line x1="374.46" y1="119.5" x2="374.46" y2="121" stroke="#231f20" stroke-width="1.3" />
<line x1="375.63" y1="119.5" x2="375.63" y2="121" stroke="#231f20" stroke-width="1.3" />
<line x1="376.67" y1="119.5" x2="376.67" y2="121" stroke="#231f20" stroke-width="1.3" />
<text x="307" y="131.9" font-size="8.7" text-anchor="middle" textLength="4.5" lengthAdjust="spacingAndGlyphs" fill="#141414" class="t">0</text>
<text x="316.7" y="131.9" font-size="8.7" text-anchor="middle" fill="#141414" class="t"><tspan textLength="8.9" lengthAdjust="spacingAndGlyphs">10</tspan><tspan font-size="6.2" dy="-3.6">2</tspan></text>
<text x="337" y="131.9" font-size="8.7" text-anchor="middle" fill="#141414" class="t"><tspan textLength="8.9" lengthAdjust="spacingAndGlyphs">10</tspan><tspan font-size="6.2" dy="-3.6">3</tspan></text>
<text x="357.3" y="131.9" font-size="8.7" text-anchor="middle" fill="#141414" class="t"><tspan textLength="8.9" lengthAdjust="spacingAndGlyphs">10</tspan><tspan font-size="6.2" dy="-3.6">4</tspan></text>
<text x="377.6" y="131.9" font-size="8.7" text-anchor="middle" fill="#141414" class="t"><tspan textLength="8.9" lengthAdjust="spacingAndGlyphs">10</tspan><tspan font-size="6.2" dy="-3.6">5</tspan></text>
<text x="310" y="146.1" font-size="10.4" textLength="63" lengthAdjust="spacingAndGlyphs" fill="#141414" >015 binding (MFI)</text>
<text transform="translate(277.5 100.6) rotate(-90)" font-size="9.9" textLength="48.4" lengthAdjust="spacingAndGlyphs" fill="#141414">Count (%max)</text>
<path d="M298,119.5 L298.24,119.5 L298.47,119.5 L298.7,119.5 L298.94,119.5 L299.18,119.5 L299.41,119.5 L299.64,119.5 L299.88,119.5 L300.12,119.5 L300.35,119.5 L300.58,119.5 L300.82,119.5 L301.06,119.5 L301.29,119.5 L301.52,119.5 L301.76,119.5 L302,119.49 L302.23,119.49 L302.46,119.49 L302.7,119.49 L302.94,119.48 L303.17,119.48 L303.4,119.48 L303.64,119.47 L303.88,119.46 L304.11,119.45 L304.35,119.44 L304.58,119.42 L304.81,119.4 L305.05,119.38 L305.29,119.35 L305.52,119.31 L305.75,119.27 L305.99,119.22 L306.23,119.16 L306.46,119.09 L306.69,119.01 L306.93,118.91 L307.17,118.8 L307.4,118.67 L307.63,118.52 L307.87,118.34 L308.11,118.14 L308.34,117.91 L308.57,117.65 L308.81,117.36 L309.05,117.03 L309.28,116.65 L309.51,116.24 L309.75,115.78 L309.99,115.27 L310.22,114.7 L310.45,114.08 L310.69,113.39 L310.93,112.62 L311.16,111.78 L311.39,110.86 L311.63,109.83 L311.87,108.69 L312.1,107.43 L312.33,106.03 L312.57,104.48 L312.81,102.75 L313.04,100.85 L313.27,98.76 L313.51,96.49 L313.75,94.02 L313.98,91.39 L314.21,88.61 L314.45,85.72 L314.69,82.77 L314.92,79.82 L315.15,76.95 L315.39,74.23 L315.62,71.75 L315.86,69.58 L316.1,67.81 L316.33,66.49 L316.56,65.68 L316.8,65.4 L317.04,65.78 L317.27,66.9 L317.5,68.69 L317.74,71.06 L317.98,73.89 L318.21,77.05 L318.44,80.41 L318.68,83.83 L318.92,87.22 L319.15,90.47 L319.38,93.52 L319.62,96.33 L319.86,98.89 L320.09,101.2 L320.32,103.25 L320.56,105.07 L320.8,106.7 L321.03,108.14 L321.26,109.42 L321.5,110.57 L321.74,111.6 L321.97,112.53 L322.2,113.37 L322.44,114.13 L322.68,114.81 L322.91,115.42 L323.14,115.97 L323.38,116.46 L323.62,116.9 L323.85,117.28 L324.08,117.62 L324.32,117.91 L324.56,118.17 L324.79,118.39 L325.02,118.58 L325.26,118.74 L325.5,118.87 L325.73,118.99 L325.96,119.08 L326.2,119.16 L326.44,119.23 L326.67,119.28 L326.9,119.33 L327.14,119.36 L327.38,119.39 L327.61,119.42 L327.85,119.43 L328.08,119.45 L328.31,119.46 L328.55,119.47 L328.79,119.48 L329.02,119.48 L329.25,119.49 L329.49,119.49 L329.73,119.49 L329.96,119.49 L330.19,119.5 L330.43,119.5 L330.67,119.5 L330.9,119.5 L331.13,119.5 L331.37,119.5 L331.61,119.5 L331.84,119.5 L332.07,119.5 L332.31,119.5 L332.55,119.5 L332.78,119.5 L333.01,119.5 L333.25,119.5 L333.49,119.5 L333.72,119.5 L333.95,119.5 L334.19,119.5 L334.43,119.5 L334.66,119.5 L334.89,119.5 L335.13,119.5 L335.37,119.5 L335.6,119.5 L335.83,119.5 L336.07,119.5 L336.31,119.5 L336.54,119.5 L336.77,119.5 L337.01,119.5 L337.25,119.5 L337.48,119.5 L337.72,119.5 L337.95,119.5 L338.19,119.5 L338.42,119.5 L338.65,119.5 L338.89,119.5 L339.12,119.5 L339.36,119.5 L339.6,119.5 L339.83,119.5 L340.06,119.5 L340.3,119.5 L340.53,119.5 L340.77,119.5 L341,119.5 L341.24,119.5 L341.48,119.5 L341.71,119.5 L341.94,119.5 L342.18,119.5 L342.42,119.5 L342.65,119.5 L342.88,119.5 L343.12,119.5 L343.36,119.5 L343.59,119.5 L343.82,119.5 L344.06,119.5 L344.3,119.5 L344.53,119.5 L344.76,119.5 L345,119.5 L345,119.5 L298,119.5 Z" stroke="none" fill="#dfe8cc" stroke-width="1" />
<path d="M298,119.5 L298.24,119.5 L298.47,119.5 L298.7,119.5 L298.94,119.5 L299.18,119.5 L299.41,119.5 L299.64,119.5 L299.88,119.5 L300.12,119.5 L300.35,119.5 L300.58,119.5 L300.82,119.5 L301.06,119.5 L301.29,119.5 L301.52,119.5 L301.76,119.5 L302,119.49 L302.23,119.49 L302.46,119.49 L302.7,119.49 L302.94,119.48 L303.17,119.48 L303.4,119.48 L303.64,119.47 L303.88,119.46 L304.11,119.45 L304.35,119.44 L304.58,119.42 L304.81,119.4 L305.05,119.38 L305.29,119.35 L305.52,119.31 L305.75,119.27 L305.99,119.22 L306.23,119.16 L306.46,119.09 L306.69,119.01 L306.93,118.91 L307.17,118.8 L307.4,118.67 L307.63,118.52 L307.87,118.34 L308.11,118.14 L308.34,117.91 L308.57,117.65 L308.81,117.36 L309.05,117.03 L309.28,116.65 L309.51,116.24 L309.75,115.78 L309.99,115.27 L310.22,114.7 L310.45,114.08 L310.69,113.39 L310.93,112.62 L311.16,111.78 L311.39,110.86 L311.63,109.83 L311.87,108.69 L312.1,107.43 L312.33,106.03 L312.57,104.48 L312.81,102.75 L313.04,100.85 L313.27,98.76 L313.51,96.49 L313.75,94.02 L313.98,91.39 L314.21,88.61 L314.45,85.72 L314.69,82.77 L314.92,79.82 L315.15,76.95 L315.39,74.23 L315.62,71.75 L315.86,69.58 L316.1,67.81 L316.33,66.49 L316.56,65.68 L316.8,65.4 L317.04,65.78 L317.27,66.9 L317.5,68.69 L317.74,71.06 L317.98,73.89 L318.21,77.05 L318.44,80.41 L318.68,83.83 L318.92,87.22 L319.15,90.47 L319.38,93.52 L319.62,96.33 L319.86,98.89 L320.09,101.2 L320.32,103.25 L320.56,105.07 L320.8,106.7 L321.03,108.14 L321.26,109.42 L321.5,110.57 L321.74,111.6 L321.97,112.53 L322.2,113.37 L322.44,114.13 L322.68,114.81 L322.91,115.42 L323.14,115.97 L323.38,116.46 L323.62,116.9 L323.85,117.28 L324.08,117.62 L324.32,117.91 L324.56,118.17 L324.79,118.39 L325.02,118.58 L325.26,118.74 L325.5,118.87 L325.73,118.99 L325.96,119.08 L326.2,119.16 L326.44,119.23 L326.67,119.28 L326.9,119.33 L327.14,119.36 L327.38,119.39 L327.61,119.42 L327.85,119.43 L328.08,119.45 L328.31,119.46 L328.55,119.47 L328.79,119.48 L329.02,119.48 L329.25,119.49 L329.49,119.49 L329.73,119.49 L329.96,119.49 L330.19,119.5 L330.43,119.5 L330.67,119.5 L330.9,119.5 L331.13,119.5 L331.37,119.5 L331.61,119.5 L331.84,119.5 L332.07,119.5 L332.31,119.5 L332.55,119.5 L332.78,119.5 L333.01,119.5 L333.25,119.5 L333.49,119.5 L333.72,119.5 L333.95,119.5 L334.19,119.5 L334.43,119.5 L334.66,119.5 L334.89,119.5 L335.13,119.5 L335.37,119.5 L335.6,119.5 L335.83,119.5 L336.07,119.5 L336.31,119.5 L336.54,119.5 L336.77,119.5 L337.01,119.5 L337.25,119.5 L337.48,119.5 L337.72,119.5 L337.95,119.5 L338.19,119.5 L338.42,119.5 L338.65,119.5 L338.89,119.5 L339.12,119.5 L339.36,119.5 L339.6,119.5 L339.83,119.5 L340.06,119.5 L340.3,119.5 L340.53,119.5 L340.77,119.5 L341,119.5 L341.24,119.5 L341.48,119.5 L341.71,119.5 L341.94,119.5 L342.18,119.5 L342.42,119.5 L342.65,119.5 L342.88,119.5 L343.12,119.5 L343.36,119.5 L343.59,119.5 L343.82,119.5 L344.06,119.5 L344.3,119.5 L344.53,119.5 L344.76,119.5 L345,119.5" stroke="#86bf5f" fill="none" stroke-width="1.0" />
<path d="M298,119.5 L298.5,119.5 L299,119.5 L299.5,119.5 L300,119.5 L300.5,119.5 L301,119.5 L301.5,119.5 L302,119.5 L302.5,119.5 L303,119.5 L303.5,119.5 L304,119.5 L304.5,119.5 L305,119.5 L305.5,119.5 L306,119.5 L306.5,119.5 L307,119.5 L307.5,119.5 L308,119.5 L308.5,119.5 L309,119.5 L309.5,119.5 L310,119.5 L310.5,119.5 L311,119.5 L311.5,119.5 L312,119.5 L312.5,119.5 L313,119.5 L313.5,119.5 L314,119.5 L314.5,119.5 L315,119.5 L315.5,119.5 L316,119.5 L316.5,119.12 L317,118.75 L317.5,118.19 L318,118.03 L318.5,116.71 L319,115.68 L319.5,114.5 L320,113.12 L320.5,112.4 L321,112.29 L321.5,111.21 L322,111.42 L322.5,112.79 L323,113.27 L323.5,114.37 L324,113.77 L324.5,113.25 L325,112.26 L325.5,111.96 L326,111.49 L326.5,111.53 L327,112.2 L327.5,112.68 L328,112.77 L328.5,113.78 L329,112.98 L329.5,111.8 L330,110.63 L330.5,110.23 L331,108.97 L331.5,108.02 L332,106.91 L332.5,105.57 L333,104.49 L333.5,103.63 L334,103.41 L334.5,102.66 L335,102.22 L335.5,100.26 L336,97.79 L336.5,96.01 L337,94.33 L337.5,93.13 L338,91.96 L338.5,91.31 L339,89.03 L339.5,86.29 L340,83.32 L340.5,79.59 L341,76.04 L341.5,71.42 L342,66.42 L342.5,62.44 L343,60.89 L343.5,59.12 L344,58.04 L344.5,58.77 L345,59.38 L345.5,61.75 L346,64.33 L346.5,66.97 L347,70.15 L347.5,73.68 L348,76.75 L348.5,80.81 L349,84.58 L349.5,88.32 L350,92.12 L350.5,95.98 L351,98.97 L351.5,101.24 L352,104.63 L352.5,106.58 L353,108.45 L353.5,110.61 L354,112.99 L354.5,115.12 L355,116.33 L355.5,117.46 L356,117.8 L356.5,118.86 L357,119.33 L357.5,119.42 L358,119.5 L358.5,119.5 L359,119.5 L359.5,119.5 L360,119.5 L360.5,119.5 L361,119.5 L361.5,119.5 L362,119.5 L362.5,119.5 L363,119.5 L363.5,119.5 L364,119.5 L364.5,119.5 L365,119.5 L365.5,119.5 L366,119.5 L366.5,119.5 L367,119.5 L367.5,119.5 L368,119.5 L368.5,119.5 L369,119.5 L369.5,119.5 L370,119.5 L370.5,119.5 L371,119.5 L371.5,119.5 L372,119.5 L372.5,119.5 L373,119.5 L373.5,119.5 L374,119.5 L374.5,119.5 L375,119.5 L375.5,119.5 L376,119.5 L376.5,119.5 L377,119.5 L377.5,119.5 L378,119.5 L378.5,119.5 L379,119.5 L379.5,119.5 L380,119.5 L380.5,119.5 L381,119.5 L381.5,119.5 L382,119.5 L382.5,119.5 L383,119.5 L383.5,119.5 L384,119.5 L384.5,119.5 L385,119.5 L385.5,119.5 L386,119.5" stroke="#72b84a" fill="none" stroke-width="1.0" stroke-linejoin="round"/>
<path d="M298,119.5 L298.5,119.5 L299,119.5 L299.5,119.5 L300,119.5 L300.5,119.5 L301,119.5 L301.5,119.5 L302,119.5 L302.5,119.5 L303,119.5 L303.5,119.5 L304,119.5 L304.5,119.5 L305,119.5 L305.5,119.5 L306,119.5 L306.5,119.5 L307,119.5 L307.5,119.5 L308,119.5 L308.5,119.5 L309,119.5 L309.5,119.5 L310,119.5 L310.5,119.5 L311,119.5 L311.5,119.5 L312,119.5 L312.5,119.5 L313,119.5 L313.5,119.5 L314,119.5 L314.5,119.5 L315,119.23 L315.5,118.97 L316,118.7 L316.5,117.87 L317,116.61 L317.5,116.01 L318,115.1 L318.5,113.78 L319,113.14 L319.5,111.85 L320,110.99 L320.5,110.66 L321,109.57 L321.5,111.24 L322,112.94 L322.5,111.74 L323,110.09 L323.5,108.68 L324,108.53 L324.5,107.42 L325,107.15 L325.5,106.38 L326,106.67 L326.5,107.39 L327,108.09 L327.5,108.6 L328,108.07 L328.5,107.54 L329,107.08 L329.5,106.81 L330,105.88 L330.5,104.68 L331,103.75 L331.5,102.27 L332,101.17 L332.5,100.57 L333,99.4 L333.5,98.57 L334,97.35 L334.5,96.79 L335,96.06 L335.5,93.54 L336,91.83 L336.5,89.9 L337,87.69 L337.5,86.27 L338,84.34 L338.5,82.77 L339,80.85 L339.5,79.22 L340,76.62 L340.5,73.49 L341,70.89 L341.5,68.7 L342,67.01 L342.5,65.74 L343,65.1 L343.5,64.42 L344,66.1 L344.5,68.67 L345,71.43 L345.5,75.27 L346,79.23 L346.5,82.37 L347,83.98 L347.5,85.49 L348,85.72 L348.5,87.85 L349,91.21 L349.5,94.24 L350,97.63 L350.5,101.21 L351,103.82 L351.5,106.78 L352,109.95 L352.5,112.14 L353,113.72 L353.5,115.88 L354,116.88 L354.5,118.23 L355,119 L355.5,119.25 L356,119.5 L356.5,119.5 L357,119.5 L357.5,119.5 L358,119.5 L358.5,119.5 L359,119.5 L359.5,119.5 L360,119.5 L360.5,119.5 L361,119.5 L361.5,119.5 L362,119.5 L362.5,119.5 L363,119.5 L363.5,119.5 L364,119.5 L364.5,119.5 L365,119.5 L365.5,119.5 L366,119.5 L366.5,119.5 L367,119.5 L367.5,119.5 L368,119.5 L368.5,119.5 L369,119.5 L369.5,119.5 L370,119.5 L370.5,119.5 L371,119.5 L371.5,119.5 L372,119.5 L372.5,119.5 L373,119.5 L373.5,119.5 L374,119.5 L374.5,119.5 L375,119.5 L375.5,119.5 L376,119.5 L376.5,119.5 L377,119.5 L377.5,119.5 L378,119.5 L378.5,119.5 L379,119.5 L379.5,119.5 L380,119.5 L380.5,119.5 L381,119.5 L381.5,119.5 L382,119.5 L382.5,119.5 L383,119.5 L383.5,119.5 L384,119.5 L384.5,119.5 L385,119.5 L385.5,119.5 L386,119.5" stroke="#3b5ca6" fill="none" stroke-width="1.0" stroke-linejoin="round"/>
<path d="M298,119.5 L298.5,119.5 L299,119.5 L299.5,119.5 L300,119.5 L300.5,119.5 L301,119.5 L301.5,119.5 L302,119.5 L302.5,119.5 L303,119.5 L303.5,119.5 L304,119.5 L304.5,119.5 L305,119.5 L305.5,119.5 L306,119.5 L306.5,119.5 L307,119.5 L307.5,119.5 L308,119.5 L308.5,119.5 L309,119.5 L309.5,119.5 L310,119.5 L310.5,119.5 L311,119.5 L311.5,119.5 L312,119.5 L312.5,119.5 L313,119.5 L313.5,119.5 L314,119.5 L314.5,118.83 L315,118.11 L315.5,117.69 L316,116.6 L316.5,115.82 L317,115.13 L317.5,114.39 L318,113.25 L318.5,112.24 L319,111.67 L319.5,111.42 L320,110.71 L320.5,110.58 L321,110.1 L321.5,109.21 L322,108.83 L322.5,108.76 L323,108.27 L323.5,107.98 L324,107.41 L324.5,106.98 L325,106.78 L325.5,106.78 L326,106.74 L326.5,107.07 L327,107.39 L327.5,107.67 L328,107.95 L328.5,107.75 L329,106.79 L329.5,106.2 L330,106.19 L330.5,105.27 L331,104.46 L331.5,103.24 L332,102.67 L332.5,101.76 L333,100.33 L333.5,99.65 L334,98.7 L334.5,97.41 L335,95.87 L335.5,94.27 L336,92.54 L336.5,90.64 L337,87.98 L337.5,84.65 L338,81.32 L338.5,78.49 L339,76.36 L339.5,75.21 L340,73.42 L340.5,70.32 L341,67.07 L341.5,63.83 L342,61.47 L342.5,59.67 L343,58.65 L343.5,57.8 L344,57.38 L344.5,58.26 L345,59.13 L345.5,60.87 L346,63.56 L346.5,65.96 L347,69.27 L347.5,72.69 L348,76.53 L348.5,79.99 L349,84.17 L349.5,87.91 L350,91.82 L350.5,95.4 L351,98.55 L351.5,101.13 L352,104.48 L352.5,107.04 L353,109.33 L353.5,111.69 L354,112.92 L354.5,115.01 L355,116.68 L355.5,116.98 L356,117.9 L356.5,118.83 L357,119.33 L357.5,119.42 L358,119.5 L358.5,119.5 L359,119.5 L359.5,119.5 L360,119.5 L360.5,119.5 L361,119.5 L361.5,119.5 L362,119.5 L362.5,119.5 L363,119.5 L363.5,119.5 L364,119.5 L364.5,119.5 L365,119.5 L365.5,119.5 L366,119.5 L366.5,119.5 L367,119.5 L367.5,119.5 L368,119.5 L368.5,119.5 L369,119.5 L369.5,119.5 L370,119.5 L370.5,119.5 L371,119.5 L371.5,119.5 L372,119.5 L372.5,119.5 L373,119.5 L373.5,119.5 L374,119.5 L374.5,119.5 L375,119.5 L375.5,119.5 L376,119.5 L376.5,119.5 L377,119.5 L377.5,119.5 L378,119.5 L378.5,119.5 L379,119.5 L379.5,119.5 L380,119.5 L380.5,119.5 L381,119.5 L381.5,119.5 L382,119.5 L382.5,119.5 L383,119.5 L383.5,119.5 L384,119.5 L384.5,119.5 L385,119.5 L385.5,119.5 L386,119.5" stroke="#b3203f" fill="none" stroke-width="1.0" stroke-linejoin="round"/>
<rect x="301.2" y="35.8" width="5.9" height="5.4" fill="#dfe8cc" stroke="#86bf5f" stroke-width="1.1"/>
<text x="310.8" y="41.2" font-size="8" textLength="39.4" lengthAdjust="spacingAndGlyphs" fill="#141414" style="stroke-width:0.3px">Background</text>
<rect x="355.2" y="35.9" width="5.9" height="5.4" fill="#fff" stroke="#72b84a" stroke-width="1.1"/>
<text x="364.8" y="41.3" font-size="8" textLength="9.2" lengthAdjust="spacingAndGlyphs" fill="#141414" style="stroke-width:0.3px">Nil</text>
<rect x="355.2" y="46.6" width="5.9" height="5.4" fill="#fff" stroke="#b3203f" stroke-width="1.1"/>
<text x="364.8" y="52" font-size="8" textLength="23.8" lengthAdjust="spacingAndGlyphs" fill="#141414" style="stroke-width:0.3px">KM114</text>
<rect x="355.2" y="57.5" width="5.9" height="5.4" fill="#fff" stroke="#3b5ca6" stroke-width="1.1"/>
<text x="364.8" y="62.9" font-size="8" textLength="12.6" lengthAdjust="spacingAndGlyphs" fill="#141414" style="stroke-width:0.3px">IM7</text>
<line x1="429.4" y1="32.5" x2="429.4" y2="119.7" stroke="#231f20" stroke-width="1.5" />
<line x1="426.2" y1="119.2" x2="429.4" y2="119.2" stroke="#231f20" stroke-width="1.3" />
<text x="423.4" y="122.2" font-size="8.7" text-anchor="end" textLength="4.5" lengthAdjust="spacingAndGlyphs" fill="#141414" class="t">0</text>
<line x1="426.2" y1="91.6" x2="429.4" y2="91.6" stroke="#231f20" stroke-width="1.3" />
<text x="423.4" y="94.6" font-size="8.7" text-anchor="end" textLength="18" lengthAdjust="spacingAndGlyphs" fill="#141414" class="t">1000</text>
<line x1="426.2" y1="64" x2="429.4" y2="64" stroke="#231f20" stroke-width="1.3" />
<text x="423.4" y="67" font-size="8.7" text-anchor="end" textLength="18" lengthAdjust="spacingAndGlyphs" fill="#141414" class="t">2000</text>
<line x1="426.2" y1="36.4" x2="429.4" y2="36.4" stroke="#231f20" stroke-width="1.3" />
<text x="423.4" y="39.4" font-size="8.7" text-anchor="end" textLength="18" lengthAdjust="spacingAndGlyphs" fill="#141414" class="t">3000</text>
<line x1="427.4" y1="105.4" x2="429.4" y2="105.4" stroke="#231f20" stroke-width="1.2" />
<line x1="427.4" y1="77.8" x2="429.4" y2="77.8" stroke="#231f20" stroke-width="1.2" />
<line x1="427.4" y1="50.2" x2="429.4" y2="50.2" stroke="#231f20" stroke-width="1.2" />
<line x1="428.9" y1="119.2" x2="512.5" y2="119.2" stroke="#231f20" stroke-width="1.3" />
<text transform="translate(400.6 82.8) rotate(-90)" font-size="10.2" textLength="12.9" lengthAdjust="spacingAndGlyphs" fill="#141414">MFI</text>
<line x1="430" y1="116.5" x2="514" y2="116.5" stroke="#222" stroke-width="1.0" stroke-dasharray="1 1"/>
<rect x="438" y="60" width="16" height="59.2" fill="#6aa541" />
<rect x="438.45" y="60.45" width="15.1" height="58.75" fill="none" stroke="#5b9436" stroke-width="0.9"/>
<line x1="446" y1="52.6" x2="446" y2="60" stroke="#231f20" stroke-width="1.3" />
<line x1="442" y1="52.6" x2="450" y2="52.6" stroke="#231f20" stroke-width="1.4" />
<rect x="463" y="60" width="16" height="59.2" fill="#50256a" />
<rect x="463.45" y="60.45" width="15.1" height="58.75" fill="none" stroke="#3e1b54" stroke-width="0.9"/>
<line x1="471" y1="54.3" x2="471" y2="60" stroke="#231f20" stroke-width="1.3" />
<line x1="467" y1="54.3" x2="475" y2="54.3" stroke="#231f20" stroke-width="1.4" />
<rect x="488" y="63" width="16" height="56.2" fill="#50256a" />
<rect x="488.45" y="63.45" width="15.1" height="55.75" fill="none" stroke="#3e1b54" stroke-width="0.9"/>
<line x1="496" y1="55.8" x2="496" y2="63" stroke="#231f20" stroke-width="1.3" />
<line x1="492" y1="55.8" x2="500" y2="55.8" stroke="#231f20" stroke-width="1.4" />
<line x1="446" y1="119.2" x2="446" y2="121.7" stroke="#231f20" stroke-width="1.3" />
<line x1="471" y1="119.2" x2="471" y2="121.7" stroke="#231f20" stroke-width="1.3" />
<line x1="496" y1="119.2" x2="496" y2="121.7" stroke="#231f20" stroke-width="1.3" />
<path d="M446,34.1 L446,31.6 L496,31.6 L496,34.1" stroke="#231f20" fill="none" stroke-width="1.15" />
<text x="471" y="29.4" font-size="7.4" text-anchor="middle" textLength="7.6" lengthAdjust="spacingAndGlyphs" fill="#141414" >ns</text>
<path d="M446,45.1 L446,42.6 L471,42.6 L471,45.1" stroke="#231f20" fill="none" stroke-width="1.15" />
<text x="458.5" y="40.4" font-size="7.4" text-anchor="middle" textLength="7.6" lengthAdjust="spacingAndGlyphs" fill="#141414" >ns</text>
<text transform="translate(448.8 129.4) rotate(-45)" font-size="8.1" text-anchor="end" fill="#141414" style="stroke-width:0.22px">Nil</text>
<text transform="translate(470.1 129.2) rotate(-45)" font-size="8.1" text-anchor="end" fill="#141414" style="stroke-width:0.22px">IgG1</text>
<text transform="translate(480.5 132.8) rotate(-45)" font-size="8.1" text-anchor="end" fill="#141414" style="stroke-width:0.22px">&#945;-CD44</text>
<text transform="translate(496.6 128.8) rotate(-45)" font-size="8.1" text-anchor="end" fill="#141414" style="stroke-width:0.22px">IgG2b</text>
<text transform="translate(506 133.9) rotate(-45)" font-size="8.1" text-anchor="end" fill="#141414" style="stroke-width:0.22px">&#945;-CD44</text>
<line x1="59.3" y1="206.51" x2="59.3" y2="333.8" stroke="#231f20" stroke-width="1.5" />
<line x1="56.1" y1="333.3" x2="59.3" y2="333.3" stroke="#231f20" stroke-width="1.3" />
<text x="53.8" y="336.3" font-size="8.7" text-anchor="end" textLength="4.5" lengthAdjust="spacingAndGlyphs" fill="#141414" class="t">0</text>
<line x1="56.1" y1="312.6" x2="59.3" y2="312.6" stroke="#231f20" stroke-width="1.3" />
<text x="53.8" y="315.6" font-size="8.7" text-anchor="end" textLength="9" lengthAdjust="spacingAndGlyphs" fill="#141414" class="t">20</text>
<line x1="56.1" y1="291.9" x2="59.3" y2="291.9" stroke="#231f20" stroke-width="1.3" />
<text x="53.8" y="294.9" font-size="8.7" text-anchor="end" textLength="9" lengthAdjust="spacingAndGlyphs" fill="#141414" class="t">40</text>
<line x1="56.1" y1="271.2" x2="59.3" y2="271.2" stroke="#231f20" stroke-width="1.3" />
<text x="53.8" y="274.2" font-size="8.7" text-anchor="end" textLength="9" lengthAdjust="spacingAndGlyphs" fill="#141414" class="t">60</text>
<line x1="56.1" y1="250.5" x2="59.3" y2="250.5" stroke="#231f20" stroke-width="1.3" />
<text x="53.8" y="253.5" font-size="8.7" text-anchor="end" textLength="9" lengthAdjust="spacingAndGlyphs" fill="#141414" class="t">80</text>
<line x1="56.1" y1="229.8" x2="59.3" y2="229.8" stroke="#231f20" stroke-width="1.3" />
<text x="53.8" y="232.8" font-size="8.7" text-anchor="end" textLength="13.5" lengthAdjust="spacingAndGlyphs" fill="#141414" class="t">100</text>
<line x1="56.1" y1="209.1" x2="59.3" y2="209.1" stroke="#231f20" stroke-width="1.3" />
<text x="53.8" y="212.1" font-size="8.7" text-anchor="end" textLength="13.5" lengthAdjust="spacingAndGlyphs" fill="#141414" class="t">120</text>
<line x1="57.3" y1="322.95" x2="59.3" y2="322.95" stroke="#231f20" stroke-width="1.2" />
<line x1="57.3" y1="302.25" x2="59.3" y2="302.25" stroke="#231f20" stroke-width="1.2" />
<line x1="57.3" y1="281.55" x2="59.3" y2="281.55" stroke="#231f20" stroke-width="1.2" />
<line x1="57.3" y1="260.85" x2="59.3" y2="260.85" stroke="#231f20" stroke-width="1.2" />
<line x1="57.3" y1="240.15" x2="59.3" y2="240.15" stroke="#231f20" stroke-width="1.2" />
<line x1="57.3" y1="219.45" x2="59.3" y2="219.45" stroke="#231f20" stroke-width="1.2" />
<line x1="58.8" y1="333.3" x2="233.8" y2="333.3" stroke="#231f20" stroke-width="1.3" />
<line x1="60.3" y1="230.1" x2="233.8" y2="230.1" stroke="#8c8c8c" stroke-width="0.9" stroke-dasharray="1 1"/>
<rect x="67.8" y="231.87" width="16" height="101.43" fill="#d98a1b" />
<rect x="68.25" y="232.32" width="15.1" height="100.98" fill="none" stroke="#c67c12" stroke-width="0.9"/>
<line x1="75.8" y1="225.66" x2="75.8" y2="231.87" stroke="#231f20" stroke-width="1.3" />
<line x1="71.8" y1="225.66" x2="79.8" y2="225.66" stroke="#231f20" stroke-width="1.4" />
<line x1="75.8" y1="333.3" x2="75.8" y2="336.3" stroke="#231f20" stroke-width="1.3" />
<rect x="92.7" y="319.85" width="16" height="13.45" fill="#a3112f" />
<rect x="93.15" y="320.3" width="15.1" height="13" fill="none" stroke="#8c0d27" stroke-width="0.9"/>
<line x1="100.7" y1="315.71" x2="100.7" y2="319.85" stroke="#231f20" stroke-width="1.3" />
<line x1="96.7" y1="315.71" x2="104.7" y2="315.71" stroke="#231f20" stroke-width="1.4" />
<line x1="100.7" y1="333.3" x2="100.7" y2="336.3" stroke="#231f20" stroke-width="1.3" />
<rect x="117.9" y="246.36" width="16" height="86.94" fill="#6aa541" />
<rect x="118.35" y="246.81" width="15.1" height="86.49" fill="none" stroke="#5b9436" stroke-width="0.9"/>
<line x1="125.9" y1="241.7" x2="125.9" y2="246.36" stroke="#231f20" stroke-width="1.3" />
<line x1="121.9" y1="241.7" x2="129.9" y2="241.7" stroke="#231f20" stroke-width="1.4" />
<line x1="125.9" y1="333.3" x2="125.9" y2="336.3" stroke="#231f20" stroke-width="1.3" />
<rect x="159.1" y="231.87" width="16" height="101.43" fill="#d98a1b" />
<rect x="159.55" y="232.32" width="15.1" height="100.98" fill="none" stroke="#c67c12" stroke-width="0.9"/>
<line x1="167.1" y1="227.73" x2="167.1" y2="231.87" stroke="#231f20" stroke-width="1.3" />
<line x1="163.1" y1="227.73" x2="171.1" y2="227.73" stroke="#231f20" stroke-width="1.4" />
<line x1="167.1" y1="333.3" x2="167.1" y2="336.3" stroke="#231f20" stroke-width="1.3" />
<rect x="184.1" y="323.99" width="16" height="9.31" fill="#a3112f" />
<rect x="184.55" y="324.44" width="15.1" height="8.86" fill="none" stroke="#8c0d27" stroke-width="0.9"/>
<line x1="192.1" y1="320.88" x2="192.1" y2="323.99" stroke="#231f20" stroke-width="1.3" />
<line x1="188.1" y1="320.88" x2="196.1" y2="320.88" stroke="#231f20" stroke-width="1.4" />
<line x1="192.1" y1="333.3" x2="192.1" y2="336.3" stroke="#231f20" stroke-width="1.3" />
<rect x="209.2" y="243.26" width="16" height="90.04" fill="#6aa541" />
<rect x="209.65" y="243.71" width="15.1" height="89.59" fill="none" stroke="#5b9436" stroke-width="0.9"/>
<line x1="217.2" y1="237.05" x2="217.2" y2="243.26" stroke="#231f20" stroke-width="1.3" />
<line x1="213.2" y1="237.05" x2="221.2" y2="237.05" stroke="#231f20" stroke-width="1.4" />
<line x1="217.2" y1="333.3" x2="217.2" y2="336.3" stroke="#231f20" stroke-width="1.3" />
<path d="M75.8,195.8 L75.8,193.3 L125.9,193.3 L125.9,195.8" stroke="#231f20" fill="none" stroke-width="1.15" />
<text x="100.85" y="191.1" font-size="7.4" text-anchor="middle" textLength="7.6" lengthAdjust="spacingAndGlyphs" fill="#141414" >ns</text>
<path d="M75.8,208.3 L75.8,205.8 L100.7,205.8 L100.7,208.3" stroke="#231f20" fill="none" stroke-width="1.15" />
<path d="M83.38,200.1 L83.38,202.9 M82.16,200.8 L84.59,202.2 M84.59,200.8 L82.16,202.2 " stroke="#2a2a2a" fill="none" stroke-width="0.75" />
<path d="M86.62,200.1 L86.62,202.9 M85.41,200.8 L87.84,202.2 M87.84,200.8 L85.41,202.2 " stroke="#2a2a2a" fill="none" stroke-width="0.75" />
<path d="M89.88,200.1 L89.88,202.9 M88.66,200.8 L91.09,202.2 M91.09,200.8 L88.66,202.2 " stroke="#2a2a2a" fill="none" stroke-width="0.75" />
<path d="M93.12,200.1 L93.12,202.9 M91.91,200.8 L94.34,202.2 M94.34,200.8 L91.91,202.2 " stroke="#2a2a2a" fill="none" stroke-width="0.75" />
<path d="M100.7,219.6 L100.7,217.1 L125.9,217.1 L125.9,219.6" stroke="#231f20" fill="none" stroke-width="1.15" />
<path d="M108.43,211.4 L108.43,214.2 M107.21,212.1 L109.64,213.5 M109.64,212.1 L107.21,213.5 " stroke="#2a2a2a" fill="none" stroke-width="0.75" />
<path d="M111.68,211.4 L111.68,214.2 M110.46,212.1 L112.89,213.5 M112.89,212.1 L110.46,213.5 " stroke="#2a2a2a" fill="none" stroke-width="0.75" />
<path d="M114.93,211.4 L114.93,214.2 M113.71,212.1 L116.14,213.5 M116.14,212.1 L113.71,213.5 " stroke="#2a2a2a" fill="none" stroke-width="0.75" />
<path d="M118.18,211.4 L118.18,214.2 M116.96,212.1 L119.39,213.5 M119.39,212.1 L116.96,213.5 " stroke="#2a2a2a" fill="none" stroke-width="0.75" />
<path d="M167.1,195.8 L167.1,193.3 L217.2,193.3 L217.2,195.8" stroke="#231f20" fill="none" stroke-width="1.15" />
<text x="192.15" y="191.1" font-size="7.4" text-anchor="middle" textLength="7.6" lengthAdjust="spacingAndGlyphs" fill="#141414" >ns</text>
<path d="M167.1,208.3 L167.1,205.8 L192.1,205.8 L192.1,208.3" stroke="#231f20" fill="none" stroke-width="1.15" />
<path d="M174.72,200.1 L174.72,202.9 M173.51,200.8 L175.94,202.2 M175.94,200.8 L173.51,202.2 " stroke="#2a2a2a" fill="none" stroke-width="0.75" />
<path d="M177.97,200.1 L177.97,202.9 M176.76,200.8 L179.19,202.2 M179.19,200.8 L176.76,202.2 " stroke="#2a2a2a" fill="none" stroke-width="0.75" />
<path d="M181.22,200.1 L181.22,202.9 M180.01,200.8 L182.44,202.2 M182.44,200.8 L180.01,202.2 " stroke="#2a2a2a" fill="none" stroke-width="0.75" />
<path d="M184.47,200.1 L184.47,202.9 M183.26,200.8 L185.69,202.2 M185.69,200.8 L183.26,202.2 " stroke="#2a2a2a" fill="none" stroke-width="0.75" />
<path d="M192.1,219.6 L192.1,217.1 L217.2,217.1 L217.2,219.6" stroke="#231f20" fill="none" stroke-width="1.15" />
<path d="M199.77,211.4 L199.77,214.2 M198.56,212.1 L200.99,213.5 M200.99,212.1 L198.56,213.5 " stroke="#2a2a2a" fill="none" stroke-width="0.75" />
<path d="M203.02,211.4 L203.02,214.2 M201.81,212.1 L204.24,213.5 M204.24,212.1 L201.81,213.5 " stroke="#2a2a2a" fill="none" stroke-width="0.75" />
<path d="M206.27,211.4 L206.27,214.2 M205.06,212.1 L207.49,213.5 M207.49,212.1 L205.06,213.5 " stroke="#2a2a2a" fill="none" stroke-width="0.75" />
<path d="M209.52,211.4 L209.52,214.2 M208.31,212.1 L210.74,213.5 M210.74,212.1 L208.31,213.5 " stroke="#2a2a2a" fill="none" stroke-width="0.75" />
<text transform="translate(22.6 270.8) rotate(-90)" font-size="9.9" text-anchor="middle" textLength="86.5" lengthAdjust="spacingAndGlyphs" fill="#141414">275003 binding to Fc&#947;RIII</text>
<text transform="translate(34.9 270.8) rotate(-90)" font-size="9.9" text-anchor="middle" textLength="55" lengthAdjust="spacingAndGlyphs" fill="#141414">(% of untreated)</text>
<line x1="321.3" y1="204.38" x2="321.3" y2="333.5" stroke="#231f20" stroke-width="1.5" />
<line x1="318.1" y1="333" x2="321.3" y2="333" stroke="#231f20" stroke-width="1.3" />
<text x="315.1" y="336" font-size="8.7" text-anchor="end" textLength="4.5" lengthAdjust="spacingAndGlyphs" fill="#141414" class="t">0</text>
<line x1="318.1" y1="312" x2="321.3" y2="312" stroke="#231f20" stroke-width="1.3" />
<text x="315.1" y="315" font-size="8.7" text-anchor="end" textLength="9" lengthAdjust="spacingAndGlyphs" fill="#141414" class="t">20</text>
<line x1="318.1" y1="291" x2="321.3" y2="291" stroke="#231f20" stroke-width="1.3" />
<text x="315.1" y="294" font-size="8.7" text-anchor="end" textLength="9" lengthAdjust="spacingAndGlyphs" fill="#141414" class="t">40</text>
<line x1="318.1" y1="270" x2="321.3" y2="270" stroke="#231f20" stroke-width="1.3" />
<text x="315.1" y="273" font-size="8.7" text-anchor="end" textLength="9" lengthAdjust="spacingAndGlyphs" fill="#141414" class="t">60</text>
<line x1="318.1" y1="249" x2="321.3" y2="249" stroke="#231f20" stroke-width="1.3" />
<text x="315.1" y="252" font-size="8.7" text-anchor="end" textLength="9" lengthAdjust="spacingAndGlyphs" fill="#141414" class="t">80</text>
<line x1="318.1" y1="228" x2="321.3" y2="228" stroke="#231f20" stroke-width="1.3" />
<text x="315.1" y="231" font-size="8.7" text-anchor="end" textLength="13.5" lengthAdjust="spacingAndGlyphs" fill="#141414" class="t">100</text>
<line x1="318.1" y1="207" x2="321.3" y2="207" stroke="#231f20" stroke-width="1.3" />
<text x="315.1" y="210" font-size="8.7" text-anchor="end" textLength="13.5" lengthAdjust="spacingAndGlyphs" fill="#141414" class="t">120</text>
<line x1="319.3" y1="322.5" x2="321.3" y2="322.5" stroke="#231f20" stroke-width="1.2" />
<line x1="319.3" y1="301.5" x2="321.3" y2="301.5" stroke="#231f20" stroke-width="1.2" />
<line x1="319.3" y1="280.5" x2="321.3" y2="280.5" stroke="#231f20" stroke-width="1.2" />
<line x1="319.3" y1="259.5" x2="321.3" y2="259.5" stroke="#231f20" stroke-width="1.2" />
<line x1="319.3" y1="238.5" x2="321.3" y2="238.5" stroke="#231f20" stroke-width="1.2" />
<line x1="319.3" y1="217.5" x2="321.3" y2="217.5" stroke="#231f20" stroke-width="1.2" />
<line x1="320.8" y1="333" x2="479.8" y2="333" stroke="#231f20" stroke-width="1.3" />
<line x1="322.3" y1="228.3" x2="479.8" y2="228.3" stroke="#8c8c8c" stroke-width="0.9" stroke-dasharray="1 1"/>
<rect x="329.9" y="237.45" width="16" height="95.55" fill="#d98a1b" />
<rect x="330.35" y="237.9" width="15.1" height="95.1" fill="none" stroke="#c67c12" stroke-width="0.9"/>
<line x1="337.9" y1="233.25" x2="337.9" y2="237.45" stroke="#231f20" stroke-width="1.3" />
<line x1="333.9" y1="233.25" x2="341.9" y2="233.25" stroke="#231f20" stroke-width="1.4" />
<line x1="337.9" y1="333" x2="337.9" y2="336" stroke="#231f20" stroke-width="1.3" />
<rect x="354.9" y="291" width="16" height="42" fill="#a3112f" />
<rect x="355.35" y="291.45" width="15.1" height="41.55" fill="none" stroke="#8c0d27" stroke-width="0.9"/>
<line x1="362.9" y1="284.7" x2="362.9" y2="291" stroke="#231f20" stroke-width="1.3" />
<line x1="358.9" y1="284.7" x2="366.9" y2="284.7" stroke="#231f20" stroke-width="1.4" />
<line x1="362.9" y1="333" x2="362.9" y2="336" stroke="#231f20" stroke-width="1.3" />
<rect x="380" y="234.3" width="16" height="98.7" fill="#6aa541" />
<rect x="380.45" y="234.75" width="15.1" height="98.25" fill="none" stroke="#5b9436" stroke-width="0.9"/>
<line x1="388" y1="230.62" x2="388" y2="234.3" stroke="#231f20" stroke-width="1.3" />
<line x1="384" y1="230.62" x2="392" y2="230.62" stroke="#231f20" stroke-width="1.4" />
<line x1="388" y1="333" x2="388" y2="336" stroke="#231f20" stroke-width="1.3" />
<rect x="421.1" y="228" width="16" height="105" fill="#d98a1b" />
<rect x="421.55" y="228.45" width="15.1" height="104.55" fill="none" stroke="#c67c12" stroke-width="0.9"/>
<line x1="429.1" y1="224.32" x2="429.1" y2="228" stroke="#231f20" stroke-width="1.3" />
<line x1="425.1" y1="224.32" x2="433.1" y2="224.32" stroke="#231f20" stroke-width="1.4" />
<line x1="429.1" y1="333" x2="429.1" y2="336" stroke="#231f20" stroke-width="1.3" />
<rect x="446.1" y="247.95" width="16" height="85.05" fill="#a3112f" />
<rect x="446.55" y="248.4" width="15.1" height="84.6" fill="none" stroke="#8c0d27" stroke-width="0.9"/>
<line x1="454.1" y1="241.65" x2="454.1" y2="247.95" stroke="#231f20" stroke-width="1.3" />
<line x1="450.1" y1="241.65" x2="458.1" y2="241.65" stroke="#231f20" stroke-width="1.4" />
<line x1="454.1" y1="333" x2="454.1" y2="336" stroke="#231f20" stroke-width="1.3" />
<path d="M337.9,195.8 L337.9,193.3 L388,193.3 L388,195.8" stroke="#231f20" fill="none" stroke-width="1.15" />
<text x="362.95" y="191.1" font-size="7.4" text-anchor="middle" textLength="7.6" lengthAdjust="spacingAndGlyphs" fill="#141414" >ns</text>
<path d="M337.9,208.7 L337.9,206.2 L362.9,206.2 L362.9,208.7" stroke="#231f20" fill="none" stroke-width="1.15" />
<path d="M345.52,200.5 L345.52,203.3 M344.31,201.2 L346.74,202.6 M346.74,201.2 L344.31,202.6 " stroke="#2a2a2a" fill="none" stroke-width="0.75" />
<path d="M348.77,200.5 L348.77,203.3 M347.56,201.2 L349.99,202.6 M349.99,201.2 L347.56,202.6 " stroke="#2a2a2a" fill="none" stroke-width="0.75" />
<path d="M352.02,200.5 L352.02,203.3 M350.81,201.2 L353.24,202.6 M353.24,201.2 L350.81,202.6 " stroke="#2a2a2a" fill="none" stroke-width="0.75" />
<path d="M355.27,200.5 L355.27,203.3 M354.06,201.2 L356.49,202.6 M356.49,201.2 L354.06,202.6 " stroke="#2a2a2a" fill="none" stroke-width="0.75" />
<path d="M362.9,220.5 L362.9,218 L388,218 L388,220.5" stroke="#231f20" fill="none" stroke-width="1.15" />
<path d="M370.57,212.3 L370.57,215.1 M369.36,213 L371.79,214.4 M371.79,213 L369.36,214.4 " stroke="#2a2a2a" fill="none" stroke-width="0.75" />
<path d="M373.82,212.3 L373.82,215.1 M372.61,213 L375.04,214.4 M375.04,213 L372.61,214.4 " stroke="#2a2a2a" fill="none" stroke-width="0.75" />
<path d="M377.07,212.3 L377.07,215.1 M375.86,213 L378.29,214.4 M378.29,213 L375.86,214.4 " stroke="#2a2a2a" fill="none" stroke-width="0.75" />
<path d="M380.32,212.3 L380.32,215.1 M379.11,213 L381.54,214.4 M381.54,213 L379.11,214.4 " stroke="#2a2a2a" fill="none" stroke-width="0.75" />
<path d="M429.1,220 L429.1,217.5 L454.1,217.5 L454.1,220" stroke="#231f20" fill="none" stroke-width="1.15" />
<text x="441.6" y="215.3" font-size="7.4" text-anchor="middle" textLength="7.6" lengthAdjust="spacingAndGlyphs" fill="#141414" >ns</text>
<text transform="translate(283.8 268) rotate(-90)" font-size="9.9" text-anchor="middle" textLength="74" lengthAdjust="spacingAndGlyphs" fill="#141414">9E9 binding to Fc&#947;RIV</text>
<text transform="translate(296.1 268) rotate(-90)" font-size="9.9" text-anchor="middle" textLength="55" lengthAdjust="spacingAndGlyphs" fill="#141414">(% of untreated)</text>
<text x="7.15" y="346.3" font-size="8.8" textLength="45.5" lengthAdjust="spacingAndGlyphs" fill="#141414" >Macrophage</text>
<line x1="7.5" y1="347.9" x2="52.6" y2="347.9" stroke="#231f20" stroke-width="0.7" />
<text x="13.65" y="356.3" font-size="8.8" textLength="38.8" lengthAdjust="spacingAndGlyphs" fill="#141414" >Treatment:</text>
<line x1="14" y1="357.9" x2="52.6" y2="357.9" stroke="#231f20" stroke-width="0.7" />
<text x="61.05" y="346.3" font-size="8.8" textLength="25.8" lengthAdjust="spacingAndGlyphs" fill="#141414" >Isotype</text>
<text x="61.55" y="356" font-size="8.8" textLength="24.8" lengthAdjust="spacingAndGlyphs" fill="#141414" >control</text>
<text x="90.65" y="346.3" font-size="8.8" textLength="19.9" lengthAdjust="spacingAndGlyphs" fill="#141414" >Intact</text>
<text x="113.1" y="346.3" font-size="8.8" fill="#141414"><tspan textLength="21" lengthAdjust="spacingAndGlyphs">F(ab&#8217;)</tspan><tspan font-size="6.4" dy="2.4">2</tspan></text>
<line x1="92.9" y1="351.2" x2="133.8" y2="351.2" stroke="#231f20" stroke-width="1.1" />
<text x="101.95" y="361.3" font-size="8.8" textLength="22.6" lengthAdjust="spacingAndGlyphs" fill="#141414" >IgG2b</text>
<text x="98.75" y="371.1" font-size="8.8" textLength="28.5" lengthAdjust="spacingAndGlyphs" fill="#141414" >&#945;-CD44</text>
<text x="269.15" y="346.3" font-size="8.8" textLength="45.5" lengthAdjust="spacingAndGlyphs" fill="#141414" >Macrophage</text>
<line x1="269.5" y1="347.9" x2="314.6" y2="347.9" stroke="#231f20" stroke-width="0.7" />
<text x="275.65" y="356.3" font-size="8.8" textLength="38.8" lengthAdjust="spacingAndGlyphs" fill="#141414" >Treatment:</text>
<line x1="276" y1="357.9" x2="314.6" y2="357.9" stroke="#231f20" stroke-width="0.7" />
<text x="323.05" y="346.3" font-size="8.8" textLength="25.8" lengthAdjust="spacingAndGlyphs" fill="#141414" >Isotype</text>
<text x="323.55" y="356" font-size="8.8" textLength="24.8" lengthAdjust="spacingAndGlyphs" fill="#141414" >control</text>
<text x="352.65" y="346.3" font-size="8.8" textLength="19.9" lengthAdjust="spacingAndGlyphs" fill="#141414" >Intact</text>
<text x="375.1" y="346.3" font-size="8.8" fill="#141414"><tspan textLength="21" lengthAdjust="spacingAndGlyphs">F(ab&#8217;)</tspan><tspan font-size="6.4" dy="2.4">2</tspan></text>
<line x1="354.9" y1="351.2" x2="395.8" y2="351.2" stroke="#231f20" stroke-width="1.1" />
<text x="363.95" y="361.3" font-size="8.8" textLength="22.6" lengthAdjust="spacingAndGlyphs" fill="#141414" >IgG2b</text>
<text x="360.75" y="371.1" font-size="8.8" textLength="28.5" lengthAdjust="spacingAndGlyphs" fill="#141414" >&#945;-CD44</text>
<text x="152.35" y="346.3" font-size="8.8" textLength="26.6" lengthAdjust="spacingAndGlyphs" fill="#141414" >Isotype</text>
<text x="152.35" y="356" font-size="8.8" textLength="25.9" lengthAdjust="spacingAndGlyphs" fill="#141414" >control</text>
<text x="181.65" y="346.3" font-size="8.8" textLength="19" lengthAdjust="spacingAndGlyphs" fill="#141414" >Intact</text>
<text x="203.4" y="346.3" font-size="8.8" fill="#141414"><tspan textLength="21.7" lengthAdjust="spacingAndGlyphs">F(ab&#8217;)</tspan><tspan font-size="6.4" dy="2.4">2</tspan></text>
<line x1="183.8" y1="351.2" x2="225.4" y2="351.2" stroke="#231f20" stroke-width="1.1" />
<text x="195.45" y="361.1" font-size="8.8" textLength="19.7" lengthAdjust="spacingAndGlyphs" fill="#141414" >IgG1</text>
<text x="189.95" y="370.9" font-size="8.8" textLength="29.1" lengthAdjust="spacingAndGlyphs" fill="#141414" >&#945;-CD44</text>
<text x="414.65" y="346.3" font-size="8.8" textLength="26.6" lengthAdjust="spacingAndGlyphs" fill="#141414" >Isotype</text>
<text x="414.65" y="356" font-size="8.8" textLength="25.9" lengthAdjust="spacingAndGlyphs" fill="#141414" >control</text>
<text x="443.45" y="346.3" font-size="8.8" textLength="20.9" lengthAdjust="spacingAndGlyphs" fill="#141414" >Intact</text>
<line x1="445.7" y1="351.2" x2="462.3" y2="351.2" stroke="#231f20" stroke-width="1.1" />
<text x="445.35" y="361.1" font-size="8.8" textLength="17.1" lengthAdjust="spacingAndGlyphs" fill="#141414" >IgG1</text>
<text x="439.35" y="370.9" font-size="8.8" textLength="29.3" lengthAdjust="spacingAndGlyphs" fill="#141414" >&#945;-CD44</text>
</svg></body></html>
